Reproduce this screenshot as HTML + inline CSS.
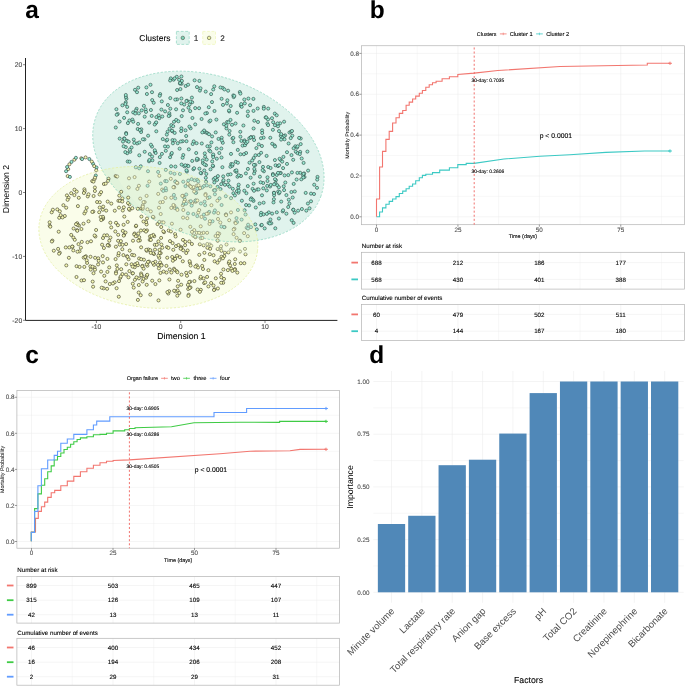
<!DOCTYPE html>
<html><head><meta charset="utf-8"><style>
html,body{margin:0;padding:0;background:#fff;}
svg{display:block;font-family:"Liberation Sans", sans-serif;will-change:transform;text-rendering:geometricPrecision;}
</style></head><body>
<svg width="685" height="686" viewBox="0 0 685 686">
<rect width="685" height="686" fill="#fff"/>
<text x="25.20" y="17.80" font-size="24.5" fill="#000" text-anchor="start" font-weight="bold" >a</text>
<text x="369.80" y="17.80" font-size="24.5" fill="#000" text-anchor="start" font-weight="bold" >b</text>
<text x="25.20" y="362.60" font-size="24.5" fill="#000" text-anchor="start" font-weight="bold" >c</text>
<text x="369.30" y="362.60" font-size="24.5" fill="#000" text-anchor="start" font-weight="bold" >d</text>
<ellipse cx="208.4" cy="156.5" rx="119.3" ry="80.2" transform="rotate(19.3 208.4 156.5)" fill="#66C2A5" fill-opacity="0.2"/>
<ellipse cx="148.35" cy="237.4" rx="110.0" ry="70.1" transform="rotate(7.25 148.35 237.4)" fill="#E6F598" fill-opacity="0.2"/>
<g stroke-width="0.6"><circle cx="246.1" cy="153.0" r="1.55" fill="#9aead3" stroke="#24423a"/><circle cx="52.4" cy="240.6" r="1.55" fill="#f7fab8" stroke="#363620"/><circle cx="188.0" cy="213.4" r="1.55" fill="#9aead3" stroke="#24423a"/><circle cx="235.8" cy="161.8" r="1.55" fill="#9aead3" stroke="#24423a"/><circle cx="211.4" cy="142.4" r="1.55" fill="#9aead3" stroke="#24423a"/><circle cx="224.3" cy="256.1" r="1.55" fill="#f7fab8" stroke="#363620"/><circle cx="228.0" cy="174.7" r="1.55" fill="#9aead3" stroke="#24423a"/><circle cx="194.6" cy="80.3" r="1.55" fill="#9aead3" stroke="#24423a"/><circle cx="122.4" cy="105.3" r="1.55" fill="#9aead3" stroke="#24423a"/><circle cx="262.1" cy="130.4" r="1.55" fill="#9aead3" stroke="#24423a"/><circle cx="242.6" cy="145.6" r="1.55" fill="#9aead3" stroke="#24423a"/><circle cx="142.5" cy="265.8" r="1.55" fill="#f7fab8" stroke="#363620"/><circle cx="236.5" cy="171.9" r="1.55" fill="#9aead3" stroke="#24423a"/><circle cx="232.8" cy="188.8" r="1.55" fill="#9aead3" stroke="#24423a"/><circle cx="116.0" cy="272.1" r="1.55" fill="#f7fab8" stroke="#363620"/><circle cx="199.8" cy="244.3" r="1.55" fill="#f7fab8" stroke="#363620"/><circle cx="122.4" cy="274.1" r="1.55" fill="#f7fab8" stroke="#363620"/><circle cx="210.1" cy="248.8" r="1.55" fill="#f7fab8" stroke="#363620"/><circle cx="174.0" cy="121.8" r="1.55" fill="#9aead3" stroke="#24423a"/><circle cx="227.1" cy="122.0" r="1.55" fill="#9aead3" stroke="#24423a"/><circle cx="196.8" cy="232.8" r="1.55" fill="#f7fab8" stroke="#363620"/><circle cx="179.9" cy="174.0" r="1.55" fill="#9aead3" stroke="#24423a"/><circle cx="152.2" cy="100.1" r="1.55" fill="#9aead3" stroke="#24423a"/><circle cx="67.7" cy="176.1" r="1.55" fill="#f7fab8" stroke="#363620"/><circle cx="210.4" cy="186.3" r="1.55" fill="#9aead3" stroke="#24423a"/><circle cx="211.1" cy="283.0" r="1.55" fill="#f7fab8" stroke="#363620"/><circle cx="147.4" cy="265.7" r="1.55" fill="#f7fab8" stroke="#363620"/><circle cx="141.4" cy="216.6" r="1.55" fill="#f7fab8" stroke="#363620"/><circle cx="186.9" cy="171.5" r="1.55" fill="#9aead3" stroke="#24423a"/><circle cx="84.4" cy="189.3" r="1.55" fill="#f7fab8" stroke="#363620"/><circle cx="213.9" cy="190.2" r="1.55" fill="#9aead3" stroke="#24423a"/><circle cx="175.5" cy="181.5" r="1.55" fill="#f7fab8" stroke="#363620"/><circle cx="102.8" cy="219.0" r="1.55" fill="#f7fab8" stroke="#363620"/><circle cx="198.1" cy="159.4" r="1.55" fill="#9aead3" stroke="#24423a"/><circle cx="238.5" cy="192.7" r="1.55" fill="#9aead3" stroke="#24423a"/><circle cx="141.1" cy="132.0" r="1.55" fill="#9aead3" stroke="#24423a"/><circle cx="214.9" cy="194.3" r="1.55" fill="#9aead3" stroke="#24423a"/><circle cx="181.2" cy="247.1" r="1.55" fill="#f7fab8" stroke="#363620"/><circle cx="177.1" cy="90.0" r="1.55" fill="#9aead3" stroke="#24423a"/><circle cx="196.7" cy="160.1" r="1.55" fill="#9aead3" stroke="#24423a"/><circle cx="107.0" cy="235.3" r="1.55" fill="#f7fab8" stroke="#363620"/><circle cx="273.2" cy="122.2" r="1.55" fill="#9aead3" stroke="#24423a"/><circle cx="216.7" cy="148.5" r="1.55" fill="#9aead3" stroke="#24423a"/><circle cx="235.0" cy="269.1" r="1.55" fill="#f7fab8" stroke="#363620"/><circle cx="228.4" cy="252.4" r="1.55" fill="#f7fab8" stroke="#363620"/><circle cx="181.6" cy="83.8" r="1.55" fill="#9aead3" stroke="#24423a"/><circle cx="172.3" cy="131.2" r="1.55" fill="#9aead3" stroke="#24423a"/><circle cx="275.3" cy="228.3" r="1.55" fill="#9aead3" stroke="#24423a"/><circle cx="118.8" cy="296.7" r="1.55" fill="#f7fab8" stroke="#363620"/><circle cx="171.9" cy="223.7" r="1.55" fill="#f7fab8" stroke="#363620"/><circle cx="183.1" cy="217.6" r="1.55" fill="#f7fab8" stroke="#363620"/><circle cx="192.2" cy="203.1" r="1.55" fill="#f7fab8" stroke="#363620"/><circle cx="81.8" cy="241.9" r="1.55" fill="#f7fab8" stroke="#363620"/><circle cx="189.6" cy="104.5" r="1.55" fill="#9aead3" stroke="#24423a"/><circle cx="188.5" cy="107.7" r="1.55" fill="#9aead3" stroke="#24423a"/><circle cx="185.7" cy="86.0" r="1.55" fill="#9aead3" stroke="#24423a"/><circle cx="255.3" cy="164.9" r="1.55" fill="#9aead3" stroke="#24423a"/><circle cx="288.3" cy="175.1" r="1.55" fill="#9aead3" stroke="#24423a"/><circle cx="185.5" cy="186.1" r="1.55" fill="#9aead3" stroke="#24423a"/><circle cx="129.4" cy="120.5" r="1.55" fill="#9aead3" stroke="#24423a"/><circle cx="145.6" cy="109.4" r="1.55" fill="#9aead3" stroke="#24423a"/><circle cx="217.7" cy="240.8" r="1.55" fill="#f7fab8" stroke="#363620"/><circle cx="170.0" cy="241.1" r="1.55" fill="#f7fab8" stroke="#363620"/><circle cx="115.8" cy="127.5" r="1.55" fill="#9aead3" stroke="#24423a"/><circle cx="171.3" cy="154.2" r="1.55" fill="#9aead3" stroke="#24423a"/><circle cx="71.5" cy="161.9" r="1.55" fill="#9aead3" stroke="#24423a"/><circle cx="294.7" cy="212.7" r="1.55" fill="#9aead3" stroke="#24423a"/><circle cx="245.5" cy="214.5" r="1.55" fill="#9aead3" stroke="#24423a"/><circle cx="253.6" cy="183.7" r="1.55" fill="#9aead3" stroke="#24423a"/><circle cx="249.3" cy="138.3" r="1.55" fill="#9aead3" stroke="#24423a"/><circle cx="183.3" cy="155.0" r="1.55" fill="#9aead3" stroke="#24423a"/><circle cx="228.8" cy="263.1" r="1.55" fill="#f7fab8" stroke="#363620"/><circle cx="87.5" cy="242.2" r="1.55" fill="#f7fab8" stroke="#363620"/><circle cx="176.0" cy="246.1" r="1.55" fill="#f7fab8" stroke="#363620"/><circle cx="200.7" cy="238.2" r="1.55" fill="#f7fab8" stroke="#363620"/><circle cx="259.6" cy="203.5" r="1.55" fill="#9aead3" stroke="#24423a"/><circle cx="291.4" cy="192.0" r="1.55" fill="#9aead3" stroke="#24423a"/><circle cx="168.7" cy="230.5" r="1.55" fill="#f7fab8" stroke="#363620"/><circle cx="81.4" cy="229.0" r="1.55" fill="#f7fab8" stroke="#363620"/><circle cx="94.9" cy="191.0" r="1.55" fill="#f7fab8" stroke="#363620"/><circle cx="254.8" cy="171.0" r="1.55" fill="#9aead3" stroke="#24423a"/><circle cx="201.5" cy="216.9" r="1.55" fill="#f7fab8" stroke="#363620"/><circle cx="109.2" cy="267.4" r="1.55" fill="#f7fab8" stroke="#363620"/><circle cx="65.8" cy="247.4" r="1.55" fill="#f7fab8" stroke="#363620"/><circle cx="153.7" cy="102.8" r="1.55" fill="#9aead3" stroke="#24423a"/><circle cx="116.8" cy="265.4" r="1.55" fill="#f7fab8" stroke="#363620"/><circle cx="131.6" cy="264.3" r="1.55" fill="#f7fab8" stroke="#363620"/><circle cx="49.7" cy="225.7" r="1.55" fill="#f7fab8" stroke="#363620"/><circle cx="126.4" cy="98.8" r="1.55" fill="#9aead3" stroke="#24423a"/><circle cx="66.3" cy="265.4" r="1.55" fill="#f7fab8" stroke="#363620"/><circle cx="295.3" cy="146.3" r="1.55" fill="#9aead3" stroke="#24423a"/><circle cx="79.5" cy="251.3" r="1.55" fill="#f7fab8" stroke="#363620"/><circle cx="268.2" cy="167.0" r="1.55" fill="#9aead3" stroke="#24423a"/><circle cx="259.4" cy="162.1" r="1.55" fill="#9aead3" stroke="#24423a"/><circle cx="223.4" cy="269.5" r="1.55" fill="#f7fab8" stroke="#363620"/><circle cx="261.9" cy="146.0" r="1.55" fill="#9aead3" stroke="#24423a"/><circle cx="154.0" cy="254.0" r="1.55" fill="#f7fab8" stroke="#363620"/><circle cx="229.2" cy="111.4" r="1.55" fill="#9aead3" stroke="#24423a"/><circle cx="195.2" cy="108.1" r="1.55" fill="#9aead3" stroke="#24423a"/><circle cx="317.5" cy="176.9" r="1.55" fill="#9aead3" stroke="#24423a"/><circle cx="136.6" cy="108.8" r="1.55" fill="#9aead3" stroke="#24423a"/><circle cx="244.8" cy="103.4" r="1.55" fill="#9aead3" stroke="#24423a"/><circle cx="130.3" cy="151.8" r="1.55" fill="#9aead3" stroke="#24423a"/><circle cx="262.0" cy="195.3" r="1.55" fill="#9aead3" stroke="#24423a"/><circle cx="68.2" cy="169.1" r="1.55" fill="#f7fab8" stroke="#363620"/><circle cx="141.2" cy="208.5" r="1.55" fill="#f7fab8" stroke="#363620"/><circle cx="291.9" cy="172.4" r="1.55" fill="#9aead3" stroke="#24423a"/><circle cx="165.1" cy="111.4" r="1.55" fill="#9aead3" stroke="#24423a"/><circle cx="162.3" cy="247.7" r="1.55" fill="#f7fab8" stroke="#363620"/><circle cx="221.2" cy="184.1" r="1.55" fill="#9aead3" stroke="#24423a"/><circle cx="258.7" cy="144.4" r="1.55" fill="#9aead3" stroke="#24423a"/><circle cx="176.8" cy="76.8" r="1.55" fill="#9aead3" stroke="#24423a"/><circle cx="103.0" cy="238.0" r="1.55" fill="#f7fab8" stroke="#363620"/><circle cx="237.9" cy="210.0" r="1.55" fill="#9aead3" stroke="#24423a"/><circle cx="116.0" cy="273.5" r="1.55" fill="#f7fab8" stroke="#363620"/><circle cx="217.1" cy="179.9" r="1.55" fill="#9aead3" stroke="#24423a"/><circle cx="159.3" cy="280.4" r="1.55" fill="#f7fab8" stroke="#363620"/><circle cx="142.3" cy="266.4" r="1.55" fill="#f7fab8" stroke="#363620"/><circle cx="171.3" cy="197.7" r="1.55" fill="#f7fab8" stroke="#363620"/><circle cx="81.3" cy="158.3" r="1.55" fill="#f7fab8" stroke="#363620"/><circle cx="246.4" cy="193.2" r="1.55" fill="#9aead3" stroke="#24423a"/><circle cx="152.2" cy="280.7" r="1.55" fill="#f7fab8" stroke="#363620"/><circle cx="264.7" cy="228.4" r="1.55" fill="#9aead3" stroke="#24423a"/><circle cx="309.5" cy="208.3" r="1.55" fill="#9aead3" stroke="#24423a"/><circle cx="119.0" cy="281.1" r="1.55" fill="#f7fab8" stroke="#363620"/><circle cx="178.5" cy="245.0" r="1.55" fill="#f7fab8" stroke="#363620"/><circle cx="134.9" cy="279.8" r="1.55" fill="#f7fab8" stroke="#363620"/><circle cx="83.7" cy="257.6" r="1.55" fill="#f7fab8" stroke="#363620"/><circle cx="206.3" cy="173.9" r="1.55" fill="#9aead3" stroke="#24423a"/><circle cx="169.8" cy="269.5" r="1.55" fill="#f7fab8" stroke="#363620"/><circle cx="213.1" cy="166.2" r="1.55" fill="#9aead3" stroke="#24423a"/><circle cx="236.9" cy="191.1" r="1.55" fill="#9aead3" stroke="#24423a"/><circle cx="215.8" cy="278.3" r="1.55" fill="#f7fab8" stroke="#363620"/><circle cx="129.6" cy="209.9" r="1.55" fill="#f7fab8" stroke="#363620"/><circle cx="184.3" cy="166.3" r="1.55" fill="#9aead3" stroke="#24423a"/><circle cx="119.7" cy="244.6" r="1.55" fill="#f7fab8" stroke="#363620"/><circle cx="140.2" cy="198.6" r="1.55" fill="#f7fab8" stroke="#363620"/><circle cx="187.0" cy="100.7" r="1.55" fill="#9aead3" stroke="#24423a"/><circle cx="189.8" cy="185.7" r="1.55" fill="#f7fab8" stroke="#363620"/><circle cx="272.1" cy="213.6" r="1.55" fill="#9aead3" stroke="#24423a"/><circle cx="148.3" cy="249.5" r="1.55" fill="#f7fab8" stroke="#363620"/><circle cx="199.4" cy="168.7" r="1.55" fill="#9aead3" stroke="#24423a"/><circle cx="255.3" cy="224.4" r="1.55" fill="#9aead3" stroke="#24423a"/><circle cx="209.2" cy="150.4" r="1.55" fill="#9aead3" stroke="#24423a"/><circle cx="187.6" cy="250.5" r="1.55" fill="#f7fab8" stroke="#363620"/><circle cx="188.1" cy="84.7" r="1.55" fill="#9aead3" stroke="#24423a"/><circle cx="293.7" cy="183.9" r="1.55" fill="#9aead3" stroke="#24423a"/><circle cx="295.8" cy="151.7" r="1.55" fill="#9aead3" stroke="#24423a"/><circle cx="93.6" cy="196.0" r="1.55" fill="#f7fab8" stroke="#363620"/><circle cx="142.8" cy="208.6" r="1.55" fill="#f7fab8" stroke="#363620"/><circle cx="200.9" cy="203.5" r="1.55" fill="#9aead3" stroke="#24423a"/><circle cx="220.5" cy="247.9" r="1.55" fill="#f7fab8" stroke="#363620"/><circle cx="214.3" cy="182.4" r="1.55" fill="#9aead3" stroke="#24423a"/><circle cx="201.6" cy="119.0" r="1.55" fill="#9aead3" stroke="#24423a"/><circle cx="284.5" cy="139.3" r="1.55" fill="#9aead3" stroke="#24423a"/><circle cx="161.1" cy="237.9" r="1.55" fill="#f7fab8" stroke="#363620"/><circle cx="222.4" cy="167.2" r="1.55" fill="#9aead3" stroke="#24423a"/><circle cx="296.6" cy="179.5" r="1.55" fill="#9aead3" stroke="#24423a"/><circle cx="92.2" cy="181.1" r="1.55" fill="#f7fab8" stroke="#363620"/><circle cx="220.5" cy="189.1" r="1.55" fill="#9aead3" stroke="#24423a"/><circle cx="154.2" cy="236.2" r="1.55" fill="#f7fab8" stroke="#363620"/><circle cx="180.6" cy="229.7" r="1.55" fill="#f7fab8" stroke="#363620"/><circle cx="149.7" cy="239.9" r="1.55" fill="#f7fab8" stroke="#363620"/><circle cx="170.8" cy="178.8" r="1.55" fill="#f7fab8" stroke="#363620"/><circle cx="124.3" cy="216.6" r="1.55" fill="#f7fab8" stroke="#363620"/><circle cx="216.4" cy="119.6" r="1.55" fill="#9aead3" stroke="#24423a"/><circle cx="244.3" cy="190.7" r="1.55" fill="#9aead3" stroke="#24423a"/><circle cx="197.0" cy="87.1" r="1.55" fill="#9aead3" stroke="#24423a"/><circle cx="272.9" cy="129.8" r="1.55" fill="#9aead3" stroke="#24423a"/><circle cx="177.6" cy="290.5" r="1.55" fill="#f7fab8" stroke="#363620"/><circle cx="160.7" cy="253.1" r="1.55" fill="#f7fab8" stroke="#363620"/><circle cx="152.0" cy="92.2" r="1.55" fill="#9aead3" stroke="#24423a"/><circle cx="209.8" cy="254.2" r="1.55" fill="#f7fab8" stroke="#363620"/><circle cx="103.9" cy="248.0" r="1.55" fill="#f7fab8" stroke="#363620"/><circle cx="172.5" cy="140.1" r="1.55" fill="#9aead3" stroke="#24423a"/><circle cx="189.3" cy="241.4" r="1.55" fill="#f7fab8" stroke="#363620"/><circle cx="84.4" cy="213.4" r="1.55" fill="#f7fab8" stroke="#363620"/><circle cx="252.6" cy="188.9" r="1.55" fill="#9aead3" stroke="#24423a"/><circle cx="193.2" cy="235.6" r="1.55" fill="#f7fab8" stroke="#363620"/><circle cx="225.8" cy="196.2" r="1.55" fill="#9aead3" stroke="#24423a"/><circle cx="53.8" cy="250.7" r="1.55" fill="#f7fab8" stroke="#363620"/><circle cx="203.5" cy="232.8" r="1.55" fill="#f7fab8" stroke="#363620"/><circle cx="293.6" cy="222.9" r="1.55" fill="#9aead3" stroke="#24423a"/><circle cx="165.8" cy="150.8" r="1.55" fill="#9aead3" stroke="#24423a"/><circle cx="188.2" cy="180.6" r="1.55" fill="#9aead3" stroke="#24423a"/><circle cx="150.3" cy="294.6" r="1.55" fill="#f7fab8" stroke="#363620"/><circle cx="132.5" cy="273.3" r="1.55" fill="#f7fab8" stroke="#363620"/><circle cx="276.8" cy="174.9" r="1.55" fill="#9aead3" stroke="#24423a"/><circle cx="276.8" cy="212.3" r="1.55" fill="#9aead3" stroke="#24423a"/><circle cx="118.1" cy="240.8" r="1.55" fill="#f7fab8" stroke="#363620"/><circle cx="146.1" cy="277.7" r="1.55" fill="#f7fab8" stroke="#363620"/><circle cx="224.5" cy="227.1" r="1.55" fill="#f7fab8" stroke="#363620"/><circle cx="174.7" cy="140.3" r="1.55" fill="#9aead3" stroke="#24423a"/><circle cx="126.1" cy="244.1" r="1.55" fill="#f7fab8" stroke="#363620"/><circle cx="115.7" cy="176.0" r="1.55" fill="#f7fab8" stroke="#363620"/><circle cx="217.6" cy="186.9" r="1.55" fill="#9aead3" stroke="#24423a"/><circle cx="253.4" cy="137.0" r="1.55" fill="#9aead3" stroke="#24423a"/><circle cx="79.0" cy="225.6" r="1.55" fill="#f7fab8" stroke="#363620"/><circle cx="103.6" cy="288.3" r="1.55" fill="#f7fab8" stroke="#363620"/><circle cx="120.9" cy="241.1" r="1.55" fill="#f7fab8" stroke="#363620"/><circle cx="280.7" cy="160.0" r="1.55" fill="#9aead3" stroke="#24423a"/><circle cx="160.2" cy="94.1" r="1.55" fill="#9aead3" stroke="#24423a"/><circle cx="259.9" cy="176.7" r="1.55" fill="#9aead3" stroke="#24423a"/><circle cx="172.9" cy="260.7" r="1.55" fill="#f7fab8" stroke="#363620"/><circle cx="101.7" cy="287.7" r="1.55" fill="#f7fab8" stroke="#363620"/><circle cx="160.1" cy="262.4" r="1.55" fill="#f7fab8" stroke="#363620"/><circle cx="142.8" cy="205.3" r="1.55" fill="#f7fab8" stroke="#363620"/><circle cx="87.1" cy="262.9" r="1.55" fill="#f7fab8" stroke="#363620"/><circle cx="150.3" cy="250.2" r="1.55" fill="#f7fab8" stroke="#363620"/><circle cx="117.7" cy="114.0" r="1.55" fill="#9aead3" stroke="#24423a"/><circle cx="146.7" cy="275.7" r="1.55" fill="#f7fab8" stroke="#363620"/><circle cx="207.3" cy="133.1" r="1.55" fill="#9aead3" stroke="#24423a"/><circle cx="268.0" cy="119.4" r="1.55" fill="#9aead3" stroke="#24423a"/><circle cx="109.1" cy="245.7" r="1.55" fill="#f7fab8" stroke="#363620"/><circle cx="239.8" cy="92.0" r="1.55" fill="#9aead3" stroke="#24423a"/><circle cx="207.1" cy="232.8" r="1.55" fill="#f7fab8" stroke="#363620"/><circle cx="66.9" cy="195.4" r="1.55" fill="#f7fab8" stroke="#363620"/><circle cx="167.6" cy="131.7" r="1.55" fill="#9aead3" stroke="#24423a"/><circle cx="236.5" cy="218.1" r="1.55" fill="#9aead3" stroke="#24423a"/><circle cx="205.1" cy="205.2" r="1.55" fill="#9aead3" stroke="#24423a"/><circle cx="127.7" cy="161.5" r="1.55" fill="#9aead3" stroke="#24423a"/><circle cx="167.9" cy="146.6" r="1.55" fill="#9aead3" stroke="#24423a"/><circle cx="197.3" cy="216.1" r="1.55" fill="#9aead3" stroke="#24423a"/><circle cx="184.2" cy="197.8" r="1.55" fill="#9aead3" stroke="#24423a"/><circle cx="187.8" cy="183.9" r="1.55" fill="#f7fab8" stroke="#363620"/><circle cx="150.0" cy="236.4" r="1.55" fill="#f7fab8" stroke="#363620"/><circle cx="184.9" cy="199.9" r="1.55" fill="#f7fab8" stroke="#363620"/><circle cx="158.2" cy="193.9" r="1.55" fill="#f7fab8" stroke="#363620"/><circle cx="171.8" cy="153.0" r="1.55" fill="#9aead3" stroke="#24423a"/><circle cx="249.5" cy="162.7" r="1.55" fill="#9aead3" stroke="#24423a"/><circle cx="116.7" cy="114.8" r="1.55" fill="#9aead3" stroke="#24423a"/><circle cx="193.4" cy="169.2" r="1.55" fill="#9aead3" stroke="#24423a"/><circle cx="128.6" cy="259.2" r="1.55" fill="#f7fab8" stroke="#363620"/><circle cx="139.2" cy="168.3" r="1.55" fill="#9aead3" stroke="#24423a"/><circle cx="219.2" cy="233.7" r="1.55" fill="#f7fab8" stroke="#363620"/><circle cx="170.8" cy="78.4" r="1.55" fill="#9aead3" stroke="#24423a"/><circle cx="138.1" cy="123.9" r="1.55" fill="#9aead3" stroke="#24423a"/><circle cx="265.6" cy="117.4" r="1.55" fill="#9aead3" stroke="#24423a"/><circle cx="283.1" cy="168.1" r="1.55" fill="#9aead3" stroke="#24423a"/><circle cx="281.2" cy="201.6" r="1.55" fill="#9aead3" stroke="#24423a"/><circle cx="160.3" cy="202.3" r="1.55" fill="#f7fab8" stroke="#363620"/><circle cx="159.6" cy="163.0" r="1.55" fill="#9aead3" stroke="#24423a"/><circle cx="217.9" cy="288.5" r="1.55" fill="#f7fab8" stroke="#363620"/><circle cx="181.4" cy="98.5" r="1.55" fill="#9aead3" stroke="#24423a"/><circle cx="174.0" cy="268.7" r="1.55" fill="#f7fab8" stroke="#363620"/><circle cx="160.8" cy="183.6" r="1.55" fill="#9aead3" stroke="#24423a"/><circle cx="125.8" cy="147.1" r="1.55" fill="#9aead3" stroke="#24423a"/><circle cx="183.0" cy="239.9" r="1.55" fill="#f7fab8" stroke="#363620"/><circle cx="272.9" cy="174.0" r="1.55" fill="#9aead3" stroke="#24423a"/><circle cx="165.2" cy="181.0" r="1.55" fill="#9aead3" stroke="#24423a"/><circle cx="186.2" cy="136.0" r="1.55" fill="#9aead3" stroke="#24423a"/><circle cx="149.2" cy="181.6" r="1.55" fill="#f7fab8" stroke="#363620"/><circle cx="272.2" cy="143.8" r="1.55" fill="#9aead3" stroke="#24423a"/><circle cx="118.3" cy="255.4" r="1.55" fill="#f7fab8" stroke="#363620"/><circle cx="241.4" cy="140.9" r="1.55" fill="#9aead3" stroke="#24423a"/><circle cx="155.0" cy="151.9" r="1.55" fill="#9aead3" stroke="#24423a"/><circle cx="221.3" cy="277.3" r="1.55" fill="#f7fab8" stroke="#363620"/><circle cx="221.6" cy="205.0" r="1.55" fill="#9aead3" stroke="#24423a"/><circle cx="245.0" cy="145.2" r="1.55" fill="#9aead3" stroke="#24423a"/><circle cx="218.2" cy="213.1" r="1.55" fill="#f7fab8" stroke="#363620"/><circle cx="151.7" cy="115.9" r="1.55" fill="#9aead3" stroke="#24423a"/><circle cx="235.2" cy="259.3" r="1.55" fill="#f7fab8" stroke="#363620"/><circle cx="230.6" cy="174.3" r="1.55" fill="#9aead3" stroke="#24423a"/><circle cx="159.6" cy="253.0" r="1.55" fill="#f7fab8" stroke="#363620"/><circle cx="92.7" cy="281.6" r="1.55" fill="#f7fab8" stroke="#363620"/><circle cx="114.8" cy="210.7" r="1.55" fill="#f7fab8" stroke="#363620"/><circle cx="172.0" cy="130.6" r="1.55" fill="#9aead3" stroke="#24423a"/><circle cx="77.5" cy="251.7" r="1.55" fill="#f7fab8" stroke="#363620"/><circle cx="108.1" cy="244.8" r="1.55" fill="#f7fab8" stroke="#363620"/><circle cx="155.3" cy="261.7" r="1.55" fill="#f7fab8" stroke="#363620"/><circle cx="134.6" cy="233.5" r="1.55" fill="#f7fab8" stroke="#363620"/><circle cx="225.9" cy="214.6" r="1.55" fill="#9aead3" stroke="#24423a"/><circle cx="187.5" cy="165.7" r="1.55" fill="#9aead3" stroke="#24423a"/><circle cx="175.2" cy="198.3" r="1.55" fill="#9aead3" stroke="#24423a"/><circle cx="109.8" cy="284.0" r="1.55" fill="#f7fab8" stroke="#363620"/><circle cx="186.2" cy="253.0" r="1.55" fill="#f7fab8" stroke="#363620"/><circle cx="233.3" cy="95.4" r="1.55" fill="#9aead3" stroke="#24423a"/><circle cx="274.0" cy="192.7" r="1.55" fill="#9aead3" stroke="#24423a"/><circle cx="221.6" cy="98.8" r="1.55" fill="#9aead3" stroke="#24423a"/><circle cx="72.5" cy="246.7" r="1.55" fill="#f7fab8" stroke="#363620"/><circle cx="132.1" cy="254.9" r="1.55" fill="#f7fab8" stroke="#363620"/><circle cx="193.2" cy="187.8" r="1.55" fill="#f7fab8" stroke="#363620"/><circle cx="77.2" cy="223.2" r="1.55" fill="#f7fab8" stroke="#363620"/><circle cx="247.9" cy="168.9" r="1.55" fill="#9aead3" stroke="#24423a"/><circle cx="288.2" cy="207.0" r="1.55" fill="#9aead3" stroke="#24423a"/><circle cx="174.8" cy="258.6" r="1.55" fill="#f7fab8" stroke="#363620"/><circle cx="129.7" cy="250.6" r="1.55" fill="#f7fab8" stroke="#363620"/><circle cx="203.0" cy="269.0" r="1.55" fill="#f7fab8" stroke="#363620"/><circle cx="275.5" cy="183.3" r="1.55" fill="#9aead3" stroke="#24423a"/><circle cx="251.0" cy="137.1" r="1.55" fill="#9aead3" stroke="#24423a"/><circle cx="263.6" cy="202.7" r="1.55" fill="#9aead3" stroke="#24423a"/><circle cx="212.5" cy="221.3" r="1.55" fill="#9aead3" stroke="#24423a"/><circle cx="51.9" cy="241.5" r="1.55" fill="#f7fab8" stroke="#363620"/><circle cx="169.6" cy="128.7" r="1.55" fill="#9aead3" stroke="#24423a"/><circle cx="261.2" cy="225.3" r="1.55" fill="#9aead3" stroke="#24423a"/><circle cx="289.5" cy="132.5" r="1.55" fill="#9aead3" stroke="#24423a"/><circle cx="138.9" cy="278.3" r="1.55" fill="#f7fab8" stroke="#363620"/><circle cx="82.1" cy="159.1" r="1.55" fill="#9aead3" stroke="#24423a"/><circle cx="292.7" cy="197.5" r="1.55" fill="#9aead3" stroke="#24423a"/><circle cx="144.4" cy="139.4" r="1.55" fill="#9aead3" stroke="#24423a"/><circle cx="155.0" cy="249.6" r="1.55" fill="#f7fab8" stroke="#363620"/><circle cx="246.7" cy="227.8" r="1.55" fill="#9aead3" stroke="#24423a"/><circle cx="204.6" cy="201.7" r="1.55" fill="#9aead3" stroke="#24423a"/><circle cx="214.6" cy="289.4" r="1.55" fill="#f7fab8" stroke="#363620"/><circle cx="195.6" cy="201.8" r="1.55" fill="#f7fab8" stroke="#363620"/><circle cx="68.6" cy="197.7" r="1.55" fill="#f7fab8" stroke="#363620"/><circle cx="132.3" cy="208.2" r="1.55" fill="#f7fab8" stroke="#363620"/><circle cx="307.9" cy="203.5" r="1.55" fill="#9aead3" stroke="#24423a"/><circle cx="192.2" cy="102.2" r="1.55" fill="#9aead3" stroke="#24423a"/><circle cx="190.0" cy="262.8" r="1.55" fill="#f7fab8" stroke="#363620"/><circle cx="189.6" cy="261.2" r="1.55" fill="#f7fab8" stroke="#363620"/><circle cx="230.7" cy="106.0" r="1.55" fill="#9aead3" stroke="#24423a"/><circle cx="214.0" cy="212.6" r="1.55" fill="#9aead3" stroke="#24423a"/><circle cx="291.5" cy="155.1" r="1.55" fill="#9aead3" stroke="#24423a"/><circle cx="117.4" cy="268.9" r="1.55" fill="#f7fab8" stroke="#363620"/><circle cx="231.2" cy="164.0" r="1.55" fill="#9aead3" stroke="#24423a"/><circle cx="216.8" cy="158.7" r="1.55" fill="#9aead3" stroke="#24423a"/><circle cx="121.2" cy="191.8" r="1.55" fill="#f7fab8" stroke="#363620"/><circle cx="212.2" cy="161.4" r="1.55" fill="#9aead3" stroke="#24423a"/><circle cx="204.1" cy="283.1" r="1.55" fill="#f7fab8" stroke="#363620"/><circle cx="201.2" cy="173.3" r="1.55" fill="#9aead3" stroke="#24423a"/><circle cx="191.6" cy="179.2" r="1.55" fill="#9aead3" stroke="#24423a"/><circle cx="149.0" cy="261.6" r="1.55" fill="#f7fab8" stroke="#363620"/><circle cx="107.1" cy="288.8" r="1.55" fill="#f7fab8" stroke="#363620"/><circle cx="166.7" cy="181.2" r="1.55" fill="#9aead3" stroke="#24423a"/><circle cx="177.1" cy="99.4" r="1.55" fill="#9aead3" stroke="#24423a"/><circle cx="162.1" cy="189.6" r="1.55" fill="#f7fab8" stroke="#363620"/><circle cx="197.2" cy="179.9" r="1.55" fill="#9aead3" stroke="#24423a"/><circle cx="240.0" cy="240.7" r="1.55" fill="#f7fab8" stroke="#363620"/><circle cx="190.6" cy="265.5" r="1.55" fill="#f7fab8" stroke="#363620"/><circle cx="201.8" cy="143.5" r="1.55" fill="#9aead3" stroke="#24423a"/><circle cx="137.2" cy="143.4" r="1.55" fill="#9aead3" stroke="#24423a"/><circle cx="118.4" cy="200.8" r="1.55" fill="#f7fab8" stroke="#363620"/><circle cx="85.9" cy="256.3" r="1.55" fill="#f7fab8" stroke="#363620"/><circle cx="93.3" cy="211.6" r="1.55" fill="#f7fab8" stroke="#363620"/><circle cx="255.8" cy="207.5" r="1.55" fill="#9aead3" stroke="#24423a"/><circle cx="119.6" cy="121.6" r="1.55" fill="#9aead3" stroke="#24423a"/><circle cx="210.3" cy="151.4" r="1.55" fill="#9aead3" stroke="#24423a"/><circle cx="267.4" cy="123.5" r="1.55" fill="#9aead3" stroke="#24423a"/><circle cx="175.4" cy="291.4" r="1.55" fill="#f7fab8" stroke="#363620"/><circle cx="132.9" cy="273.3" r="1.55" fill="#f7fab8" stroke="#363620"/><circle cx="141.7" cy="110.4" r="1.55" fill="#9aead3" stroke="#24423a"/><circle cx="125.9" cy="97.0" r="1.55" fill="#9aead3" stroke="#24423a"/><circle cx="297.0" cy="147.6" r="1.55" fill="#9aead3" stroke="#24423a"/><circle cx="143.4" cy="279.0" r="1.55" fill="#f7fab8" stroke="#363620"/><circle cx="212.0" cy="102.1" r="1.55" fill="#9aead3" stroke="#24423a"/><circle cx="159.3" cy="175.8" r="1.55" fill="#f7fab8" stroke="#363620"/><circle cx="69.3" cy="247.4" r="1.55" fill="#f7fab8" stroke="#363620"/><circle cx="103.9" cy="184.0" r="1.55" fill="#f7fab8" stroke="#363620"/><circle cx="278.2" cy="191.5" r="1.55" fill="#9aead3" stroke="#24423a"/><circle cx="95.8" cy="175.5" r="1.55" fill="#9aead3" stroke="#24423a"/><circle cx="245.0" cy="248.9" r="1.55" fill="#f7fab8" stroke="#363620"/><circle cx="102.7" cy="256.1" r="1.55" fill="#f7fab8" stroke="#363620"/><circle cx="250.6" cy="177.7" r="1.55" fill="#9aead3" stroke="#24423a"/><circle cx="95.1" cy="257.8" r="1.55" fill="#f7fab8" stroke="#363620"/><circle cx="170.1" cy="80.5" r="1.55" fill="#9aead3" stroke="#24423a"/><circle cx="277.3" cy="185.3" r="1.55" fill="#9aead3" stroke="#24423a"/><circle cx="93.1" cy="163.8" r="1.55" fill="#9aead3" stroke="#24423a"/><circle cx="166.4" cy="140.6" r="1.55" fill="#9aead3" stroke="#24423a"/><circle cx="140.8" cy="166.3" r="1.55" fill="#9aead3" stroke="#24423a"/><circle cx="122.4" cy="198.4" r="1.55" fill="#f7fab8" stroke="#363620"/><circle cx="127.2" cy="153.2" r="1.55" fill="#9aead3" stroke="#24423a"/><circle cx="213.5" cy="285.5" r="1.55" fill="#f7fab8" stroke="#363620"/><circle cx="118.2" cy="234.8" r="1.55" fill="#f7fab8" stroke="#363620"/><circle cx="283.7" cy="186.3" r="1.55" fill="#9aead3" stroke="#24423a"/><circle cx="102.8" cy="209.7" r="1.55" fill="#f7fab8" stroke="#363620"/><circle cx="247.9" cy="111.5" r="1.55" fill="#9aead3" stroke="#24423a"/><circle cx="59.8" cy="252.7" r="1.55" fill="#f7fab8" stroke="#363620"/><circle cx="190.3" cy="226.8" r="1.55" fill="#f7fab8" stroke="#363620"/><circle cx="107.7" cy="201.6" r="1.55" fill="#f7fab8" stroke="#363620"/><circle cx="137.7" cy="129.0" r="1.55" fill="#9aead3" stroke="#24423a"/><circle cx="257.3" cy="189.5" r="1.55" fill="#9aead3" stroke="#24423a"/><circle cx="212.8" cy="165.6" r="1.55" fill="#9aead3" stroke="#24423a"/><circle cx="231.3" cy="268.7" r="1.55" fill="#f7fab8" stroke="#363620"/><circle cx="165.8" cy="169.9" r="1.55" fill="#9aead3" stroke="#24423a"/><circle cx="175.3" cy="181.6" r="1.55" fill="#9aead3" stroke="#24423a"/><circle cx="68.9" cy="257.8" r="1.55" fill="#f7fab8" stroke="#363620"/><circle cx="304.5" cy="177.0" r="1.55" fill="#9aead3" stroke="#24423a"/><circle cx="144.7" cy="151.8" r="1.55" fill="#9aead3" stroke="#24423a"/><circle cx="248.0" cy="228.5" r="1.55" fill="#9aead3" stroke="#24423a"/><circle cx="233.4" cy="193.2" r="1.55" fill="#9aead3" stroke="#24423a"/><circle cx="214.6" cy="261.3" r="1.55" fill="#f7fab8" stroke="#363620"/><circle cx="213.5" cy="255.2" r="1.55" fill="#f7fab8" stroke="#363620"/><circle cx="278.9" cy="218.5" r="1.55" fill="#9aead3" stroke="#24423a"/><circle cx="134.2" cy="234.5" r="1.55" fill="#f7fab8" stroke="#363620"/><circle cx="189.5" cy="201.6" r="1.55" fill="#f7fab8" stroke="#363620"/><circle cx="209.8" cy="244.5" r="1.55" fill="#f7fab8" stroke="#363620"/><circle cx="187.9" cy="284.9" r="1.55" fill="#f7fab8" stroke="#363620"/><circle cx="127.1" cy="256.3" r="1.55" fill="#f7fab8" stroke="#363620"/><circle cx="122.3" cy="249.2" r="1.55" fill="#f7fab8" stroke="#363620"/><circle cx="153.9" cy="264.8" r="1.55" fill="#f7fab8" stroke="#363620"/><circle cx="235.3" cy="222.4" r="1.55" fill="#f7fab8" stroke="#363620"/><circle cx="243.9" cy="154.2" r="1.55" fill="#9aead3" stroke="#24423a"/><circle cx="183.3" cy="210.0" r="1.55" fill="#f7fab8" stroke="#363620"/><circle cx="191.6" cy="205.6" r="1.55" fill="#9aead3" stroke="#24423a"/><circle cx="230.4" cy="166.8" r="1.55" fill="#9aead3" stroke="#24423a"/><circle cx="223.2" cy="282.8" r="1.55" fill="#f7fab8" stroke="#363620"/><circle cx="300.2" cy="172.8" r="1.55" fill="#9aead3" stroke="#24423a"/><circle cx="279.0" cy="131.1" r="1.55" fill="#9aead3" stroke="#24423a"/><circle cx="152.1" cy="156.5" r="1.55" fill="#9aead3" stroke="#24423a"/><circle cx="142.6" cy="281.5" r="1.55" fill="#f7fab8" stroke="#363620"/><circle cx="221.4" cy="226.6" r="1.55" fill="#9aead3" stroke="#24423a"/><circle cx="226.0" cy="214.5" r="1.55" fill="#f7fab8" stroke="#363620"/><circle cx="222.7" cy="87.9" r="1.55" fill="#9aead3" stroke="#24423a"/><circle cx="262.2" cy="133.0" r="1.55" fill="#9aead3" stroke="#24423a"/><circle cx="147.0" cy="230.4" r="1.55" fill="#f7fab8" stroke="#363620"/><circle cx="196.2" cy="153.0" r="1.55" fill="#9aead3" stroke="#24423a"/><circle cx="96.1" cy="230.0" r="1.55" fill="#f7fab8" stroke="#363620"/><circle cx="204.0" cy="186.0" r="1.55" fill="#9aead3" stroke="#24423a"/><circle cx="287.0" cy="163.9" r="1.55" fill="#9aead3" stroke="#24423a"/><circle cx="59.2" cy="217.8" r="1.55" fill="#f7fab8" stroke="#363620"/><circle cx="161.4" cy="264.8" r="1.55" fill="#f7fab8" stroke="#363620"/><circle cx="274.9" cy="160.1" r="1.55" fill="#9aead3" stroke="#24423a"/><circle cx="196.2" cy="192.8" r="1.55" fill="#9aead3" stroke="#24423a"/><circle cx="270.4" cy="219.5" r="1.55" fill="#9aead3" stroke="#24423a"/><circle cx="152.0" cy="146.6" r="1.55" fill="#9aead3" stroke="#24423a"/><circle cx="205.6" cy="132.3" r="1.55" fill="#9aead3" stroke="#24423a"/><circle cx="105.6" cy="281.4" r="1.55" fill="#f7fab8" stroke="#363620"/><circle cx="240.9" cy="105.7" r="1.55" fill="#9aead3" stroke="#24423a"/><circle cx="249.1" cy="205.4" r="1.55" fill="#9aead3" stroke="#24423a"/><circle cx="167.0" cy="247.1" r="1.55" fill="#f7fab8" stroke="#363620"/><circle cx="131.6" cy="147.5" r="1.55" fill="#9aead3" stroke="#24423a"/><circle cx="221.4" cy="250.8" r="1.55" fill="#f7fab8" stroke="#363620"/><circle cx="224.2" cy="227.1" r="1.55" fill="#9aead3" stroke="#24423a"/><circle cx="195.6" cy="200.5" r="1.55" fill="#f7fab8" stroke="#363620"/><circle cx="244.5" cy="140.4" r="1.55" fill="#9aead3" stroke="#24423a"/><circle cx="221.0" cy="246.2" r="1.55" fill="#f7fab8" stroke="#363620"/><circle cx="181.2" cy="284.7" r="1.55" fill="#f7fab8" stroke="#363620"/><circle cx="137.9" cy="265.2" r="1.55" fill="#f7fab8" stroke="#363620"/><circle cx="134.2" cy="255.3" r="1.55" fill="#f7fab8" stroke="#363620"/><circle cx="157.5" cy="224.1" r="1.55" fill="#f7fab8" stroke="#363620"/><circle cx="253.7" cy="158.0" r="1.55" fill="#9aead3" stroke="#24423a"/><circle cx="204.4" cy="252.8" r="1.55" fill="#f7fab8" stroke="#363620"/><circle cx="135.9" cy="226.2" r="1.55" fill="#f7fab8" stroke="#363620"/><circle cx="280.8" cy="173.0" r="1.55" fill="#9aead3" stroke="#24423a"/><circle cx="166.1" cy="190.3" r="1.55" fill="#9aead3" stroke="#24423a"/><circle cx="270.1" cy="186.5" r="1.55" fill="#9aead3" stroke="#24423a"/><circle cx="164.0" cy="232.2" r="1.55" fill="#f7fab8" stroke="#363620"/><circle cx="96.5" cy="167.5" r="1.55" fill="#9aead3" stroke="#24423a"/><circle cx="273.5" cy="202.4" r="1.55" fill="#9aead3" stroke="#24423a"/><circle cx="270.6" cy="168.0" r="1.55" fill="#9aead3" stroke="#24423a"/><circle cx="84.7" cy="191.2" r="1.55" fill="#f7fab8" stroke="#363620"/><circle cx="190.6" cy="128.3" r="1.55" fill="#9aead3" stroke="#24423a"/><circle cx="174.7" cy="132.9" r="1.55" fill="#9aead3" stroke="#24423a"/><circle cx="119.3" cy="195.6" r="1.55" fill="#f7fab8" stroke="#363620"/><circle cx="116.6" cy="288.2" r="1.55" fill="#f7fab8" stroke="#363620"/><circle cx="93.5" cy="181.6" r="1.55" fill="#f7fab8" stroke="#363620"/><circle cx="194.2" cy="230.1" r="1.55" fill="#f7fab8" stroke="#363620"/><circle cx="171.3" cy="207.9" r="1.55" fill="#f7fab8" stroke="#363620"/><circle cx="226.9" cy="103.5" r="1.55" fill="#9aead3" stroke="#24423a"/><circle cx="247.8" cy="115.9" r="1.55" fill="#9aead3" stroke="#24423a"/><circle cx="139.9" cy="240.4" r="1.55" fill="#f7fab8" stroke="#363620"/><circle cx="170.3" cy="98.1" r="1.55" fill="#9aead3" stroke="#24423a"/><circle cx="266.2" cy="117.4" r="1.55" fill="#9aead3" stroke="#24423a"/><circle cx="238.2" cy="187.6" r="1.55" fill="#9aead3" stroke="#24423a"/><circle cx="195.6" cy="192.9" r="1.55" fill="#9aead3" stroke="#24423a"/><circle cx="213.7" cy="179.1" r="1.55" fill="#9aead3" stroke="#24423a"/><circle cx="143.9" cy="105.8" r="1.55" fill="#9aead3" stroke="#24423a"/><circle cx="275.9" cy="180.2" r="1.55" fill="#9aead3" stroke="#24423a"/><circle cx="209.5" cy="223.9" r="1.55" fill="#f7fab8" stroke="#363620"/><circle cx="263.6" cy="137.6" r="1.55" fill="#9aead3" stroke="#24423a"/><circle cx="267.5" cy="177.3" r="1.55" fill="#9aead3" stroke="#24423a"/><circle cx="169.3" cy="113.2" r="1.55" fill="#9aead3" stroke="#24423a"/><circle cx="126.1" cy="133.0" r="1.55" fill="#9aead3" stroke="#24423a"/><circle cx="244.6" cy="141.7" r="1.55" fill="#9aead3" stroke="#24423a"/><circle cx="78.5" cy="244.1" r="1.55" fill="#f7fab8" stroke="#363620"/><circle cx="185.3" cy="241.8" r="1.55" fill="#f7fab8" stroke="#363620"/><circle cx="102.1" cy="244.7" r="1.55" fill="#f7fab8" stroke="#363620"/><circle cx="186.2" cy="194.5" r="1.55" fill="#9aead3" stroke="#24423a"/><circle cx="123.8" cy="207.3" r="1.55" fill="#f7fab8" stroke="#363620"/><circle cx="213.2" cy="155.5" r="1.55" fill="#9aead3" stroke="#24423a"/><circle cx="278.9" cy="187.3" r="1.55" fill="#9aead3" stroke="#24423a"/><circle cx="206.0" cy="165.2" r="1.55" fill="#9aead3" stroke="#24423a"/><circle cx="155.7" cy="153.0" r="1.55" fill="#9aead3" stroke="#24423a"/><circle cx="238.9" cy="190.6" r="1.55" fill="#9aead3" stroke="#24423a"/><circle cx="192.7" cy="144.0" r="1.55" fill="#9aead3" stroke="#24423a"/><circle cx="303.0" cy="175.4" r="1.55" fill="#9aead3" stroke="#24423a"/><circle cx="280.1" cy="123.3" r="1.55" fill="#9aead3" stroke="#24423a"/><circle cx="133.8" cy="139.6" r="1.55" fill="#9aead3" stroke="#24423a"/><circle cx="146.0" cy="111.9" r="1.55" fill="#9aead3" stroke="#24423a"/><circle cx="92.3" cy="211.9" r="1.55" fill="#f7fab8" stroke="#363620"/><circle cx="195.2" cy="124.4" r="1.55" fill="#9aead3" stroke="#24423a"/><circle cx="146.6" cy="224.4" r="1.55" fill="#f7fab8" stroke="#363620"/><circle cx="275.6" cy="165.3" r="1.55" fill="#9aead3" stroke="#24423a"/><circle cx="227.4" cy="100.3" r="1.55" fill="#9aead3" stroke="#24423a"/><circle cx="209.4" cy="121.5" r="1.55" fill="#9aead3" stroke="#24423a"/><circle cx="268.6" cy="222.9" r="1.55" fill="#9aead3" stroke="#24423a"/><circle cx="292.3" cy="135.7" r="1.55" fill="#9aead3" stroke="#24423a"/><circle cx="146.7" cy="264.2" r="1.55" fill="#f7fab8" stroke="#363620"/><circle cx="154.8" cy="150.3" r="1.55" fill="#9aead3" stroke="#24423a"/><circle cx="200.7" cy="226.3" r="1.55" fill="#f7fab8" stroke="#363620"/><circle cx="134.6" cy="177.1" r="1.55" fill="#f7fab8" stroke="#363620"/><circle cx="67.6" cy="199.8" r="1.55" fill="#f7fab8" stroke="#363620"/><circle cx="200.8" cy="289.8" r="1.55" fill="#f7fab8" stroke="#363620"/><circle cx="140.7" cy="295.2" r="1.55" fill="#f7fab8" stroke="#363620"/><circle cx="205.6" cy="194.0" r="1.55" fill="#f7fab8" stroke="#363620"/><circle cx="247.8" cy="236.2" r="1.55" fill="#f7fab8" stroke="#363620"/><circle cx="234.4" cy="228.8" r="1.55" fill="#f7fab8" stroke="#363620"/><circle cx="103.2" cy="218.0" r="1.55" fill="#f7fab8" stroke="#363620"/><circle cx="240.3" cy="131.8" r="1.55" fill="#9aead3" stroke="#24423a"/><circle cx="59.1" cy="253.7" r="1.55" fill="#f7fab8" stroke="#363620"/><circle cx="155.8" cy="123.0" r="1.55" fill="#9aead3" stroke="#24423a"/><circle cx="138.3" cy="233.5" r="1.55" fill="#f7fab8" stroke="#363620"/><circle cx="175.1" cy="234.0" r="1.55" fill="#f7fab8" stroke="#363620"/><circle cx="108.5" cy="178.8" r="1.55" fill="#f7fab8" stroke="#363620"/><circle cx="230.5" cy="119.9" r="1.55" fill="#9aead3" stroke="#24423a"/><circle cx="76.6" cy="266.2" r="1.55" fill="#f7fab8" stroke="#363620"/><circle cx="229.6" cy="131.0" r="1.55" fill="#9aead3" stroke="#24423a"/><circle cx="263.2" cy="183.0" r="1.55" fill="#9aead3" stroke="#24423a"/><circle cx="283.4" cy="156.9" r="1.55" fill="#9aead3" stroke="#24423a"/><circle cx="98.2" cy="258.3" r="1.55" fill="#f7fab8" stroke="#363620"/><circle cx="198.2" cy="181.4" r="1.55" fill="#9aead3" stroke="#24423a"/><circle cx="193.7" cy="141.4" r="1.55" fill="#9aead3" stroke="#24423a"/><circle cx="74.4" cy="159.7" r="1.55" fill="#f7fab8" stroke="#363620"/><circle cx="172.9" cy="143.3" r="1.55" fill="#9aead3" stroke="#24423a"/><circle cx="178.1" cy="280.8" r="1.55" fill="#f7fab8" stroke="#363620"/><circle cx="182.8" cy="261.3" r="1.55" fill="#f7fab8" stroke="#363620"/><circle cx="194.1" cy="191.5" r="1.55" fill="#f7fab8" stroke="#363620"/><circle cx="173.3" cy="249.8" r="1.55" fill="#f7fab8" stroke="#363620"/><circle cx="111.3" cy="203.6" r="1.55" fill="#f7fab8" stroke="#363620"/><circle cx="192.4" cy="118.0" r="1.55" fill="#9aead3" stroke="#24423a"/><circle cx="206.0" cy="181.7" r="1.55" fill="#9aead3" stroke="#24423a"/><circle cx="174.7" cy="269.9" r="1.55" fill="#f7fab8" stroke="#363620"/><circle cx="120.2" cy="277.8" r="1.55" fill="#f7fab8" stroke="#363620"/><circle cx="126.3" cy="264.3" r="1.55" fill="#f7fab8" stroke="#363620"/><circle cx="161.2" cy="227.0" r="1.55" fill="#f7fab8" stroke="#363620"/><circle cx="95.4" cy="236.5" r="1.55" fill="#f7fab8" stroke="#363620"/><circle cx="263.3" cy="188.3" r="1.55" fill="#9aead3" stroke="#24423a"/><circle cx="161.9" cy="153.9" r="1.55" fill="#9aead3" stroke="#24423a"/><circle cx="99.6" cy="194.4" r="1.55" fill="#f7fab8" stroke="#363620"/><circle cx="159.2" cy="257.8" r="1.55" fill="#f7fab8" stroke="#363620"/><circle cx="199.4" cy="80.9" r="1.55" fill="#9aead3" stroke="#24423a"/><circle cx="66.1" cy="171.2" r="1.55" fill="#9aead3" stroke="#24423a"/><circle cx="241.7" cy="106.8" r="1.55" fill="#9aead3" stroke="#24423a"/><circle cx="246.1" cy="205.0" r="1.55" fill="#9aead3" stroke="#24423a"/><circle cx="94.9" cy="187.5" r="1.55" fill="#f7fab8" stroke="#363620"/><circle cx="209.8" cy="146.3" r="1.55" fill="#9aead3" stroke="#24423a"/><circle cx="182.8" cy="205.3" r="1.55" fill="#f7fab8" stroke="#363620"/><circle cx="74.4" cy="195.1" r="1.55" fill="#f7fab8" stroke="#363620"/><circle cx="94.6" cy="267.6" r="1.55" fill="#f7fab8" stroke="#363620"/><circle cx="196.7" cy="265.4" r="1.55" fill="#f7fab8" stroke="#363620"/><circle cx="57.3" cy="209.4" r="1.55" fill="#f7fab8" stroke="#363620"/><circle cx="291.0" cy="131.6" r="1.55" fill="#9aead3" stroke="#24423a"/><circle cx="165.7" cy="188.1" r="1.55" fill="#9aead3" stroke="#24423a"/><circle cx="114.6" cy="282.3" r="1.55" fill="#f7fab8" stroke="#363620"/><circle cx="241.6" cy="219.6" r="1.55" fill="#9aead3" stroke="#24423a"/><circle cx="197.6" cy="289.5" r="1.55" fill="#f7fab8" stroke="#363620"/><circle cx="231.0" cy="198.2" r="1.55" fill="#9aead3" stroke="#24423a"/><circle cx="202.9" cy="163.1" r="1.55" fill="#9aead3" stroke="#24423a"/><circle cx="240.5" cy="154.3" r="1.55" fill="#9aead3" stroke="#24423a"/><circle cx="223.3" cy="181.2" r="1.55" fill="#9aead3" stroke="#24423a"/><circle cx="253.9" cy="164.9" r="1.55" fill="#9aead3" stroke="#24423a"/><circle cx="162.8" cy="202.0" r="1.55" fill="#f7fab8" stroke="#363620"/><circle cx="183.2" cy="250.3" r="1.55" fill="#f7fab8" stroke="#363620"/><circle cx="229.0" cy="110.5" r="1.55" fill="#9aead3" stroke="#24423a"/><circle cx="234.6" cy="269.9" r="1.55" fill="#f7fab8" stroke="#363620"/><circle cx="263.0" cy="166.9" r="1.55" fill="#9aead3" stroke="#24423a"/><circle cx="210.4" cy="120.6" r="1.55" fill="#9aead3" stroke="#24423a"/><circle cx="202.1" cy="187.6" r="1.55" fill="#9aead3" stroke="#24423a"/><circle cx="301.9" cy="209.0" r="1.55" fill="#9aead3" stroke="#24423a"/><circle cx="146.6" cy="195.9" r="1.55" fill="#f7fab8" stroke="#363620"/><circle cx="119.9" cy="200.8" r="1.55" fill="#f7fab8" stroke="#363620"/><circle cx="150.5" cy="84.8" r="1.55" fill="#9aead3" stroke="#24423a"/><circle cx="163.3" cy="190.9" r="1.55" fill="#9aead3" stroke="#24423a"/><circle cx="74.5" cy="189.7" r="1.55" fill="#f7fab8" stroke="#363620"/><circle cx="253.5" cy="110.9" r="1.55" fill="#9aead3" stroke="#24423a"/><circle cx="248.4" cy="98.6" r="1.55" fill="#9aead3" stroke="#24423a"/><circle cx="239.8" cy="241.0" r="1.55" fill="#f7fab8" stroke="#363620"/><circle cx="153.2" cy="253.2" r="1.55" fill="#f7fab8" stroke="#363620"/><circle cx="221.5" cy="157.5" r="1.55" fill="#9aead3" stroke="#24423a"/><circle cx="60.7" cy="215.2" r="1.55" fill="#f7fab8" stroke="#363620"/><circle cx="135.0" cy="89.8" r="1.55" fill="#9aead3" stroke="#24423a"/><circle cx="170.6" cy="172.8" r="1.55" fill="#9aead3" stroke="#24423a"/><circle cx="263.9" cy="171.3" r="1.55" fill="#9aead3" stroke="#24423a"/><circle cx="124.1" cy="138.4" r="1.55" fill="#9aead3" stroke="#24423a"/><circle cx="297.4" cy="172.9" r="1.55" fill="#9aead3" stroke="#24423a"/><circle cx="217.6" cy="249.0" r="1.55" fill="#f7fab8" stroke="#363620"/><circle cx="107.7" cy="245.3" r="1.55" fill="#f7fab8" stroke="#363620"/><circle cx="122.3" cy="201.5" r="1.55" fill="#f7fab8" stroke="#363620"/><circle cx="202.8" cy="160.4" r="1.55" fill="#9aead3" stroke="#24423a"/><circle cx="168.3" cy="293.5" r="1.55" fill="#f7fab8" stroke="#363620"/><circle cx="266.6" cy="155.9" r="1.55" fill="#9aead3" stroke="#24423a"/><circle cx="194.1" cy="168.2" r="1.55" fill="#9aead3" stroke="#24423a"/><circle cx="124.5" cy="138.8" r="1.55" fill="#9aead3" stroke="#24423a"/><circle cx="194.5" cy="180.2" r="1.55" fill="#9aead3" stroke="#24423a"/><circle cx="233.7" cy="229.5" r="1.55" fill="#f7fab8" stroke="#363620"/><circle cx="126.0" cy="274.5" r="1.55" fill="#f7fab8" stroke="#363620"/><circle cx="207.8" cy="198.0" r="1.55" fill="#f7fab8" stroke="#363620"/><circle cx="180.4" cy="89.1" r="1.55" fill="#9aead3" stroke="#24423a"/><circle cx="77.1" cy="230.2" r="1.55" fill="#f7fab8" stroke="#363620"/><circle cx="237.5" cy="176.7" r="1.55" fill="#9aead3" stroke="#24423a"/><circle cx="85.6" cy="157.4" r="1.55" fill="#f7fab8" stroke="#363620"/><circle cx="279.6" cy="158.8" r="1.55" fill="#9aead3" stroke="#24423a"/><circle cx="137.4" cy="188.9" r="1.55" fill="#f7fab8" stroke="#363620"/><circle cx="143.9" cy="259.7" r="1.55" fill="#f7fab8" stroke="#363620"/><circle cx="163.3" cy="231.3" r="1.55" fill="#f7fab8" stroke="#363620"/><circle cx="104.3" cy="235.4" r="1.55" fill="#f7fab8" stroke="#363620"/><circle cx="118.7" cy="253.1" r="1.55" fill="#f7fab8" stroke="#363620"/><circle cx="150.8" cy="211.4" r="1.55" fill="#f7fab8" stroke="#363620"/><circle cx="139.1" cy="258.5" r="1.55" fill="#f7fab8" stroke="#363620"/><circle cx="215.4" cy="190.1" r="1.55" fill="#9aead3" stroke="#24423a"/><circle cx="253.6" cy="128.5" r="1.55" fill="#9aead3" stroke="#24423a"/><circle cx="191.9" cy="244.0" r="1.55" fill="#f7fab8" stroke="#363620"/><circle cx="128.7" cy="187.5" r="1.55" fill="#f7fab8" stroke="#363620"/><circle cx="94.6" cy="235.5" r="1.55" fill="#f7fab8" stroke="#363620"/><circle cx="274.5" cy="145.4" r="1.55" fill="#9aead3" stroke="#24423a"/><circle cx="197.0" cy="158.7" r="1.55" fill="#9aead3" stroke="#24423a"/><circle cx="124.0" cy="235.0" r="1.55" fill="#f7fab8" stroke="#363620"/><circle cx="183.0" cy="195.8" r="1.55" fill="#f7fab8" stroke="#363620"/><circle cx="275.0" cy="179.2" r="1.55" fill="#9aead3" stroke="#24423a"/><circle cx="215.2" cy="177.8" r="1.55" fill="#9aead3" stroke="#24423a"/><circle cx="217.6" cy="240.4" r="1.55" fill="#f7fab8" stroke="#363620"/><circle cx="138.3" cy="240.7" r="1.55" fill="#f7fab8" stroke="#363620"/><circle cx="173.9" cy="187.0" r="1.55" fill="#9aead3" stroke="#24423a"/><circle cx="116.0" cy="222.8" r="1.55" fill="#f7fab8" stroke="#363620"/><circle cx="199.9" cy="291.8" r="1.55" fill="#f7fab8" stroke="#363620"/><circle cx="293.2" cy="209.7" r="1.55" fill="#9aead3" stroke="#24423a"/><circle cx="139.2" cy="237.2" r="1.55" fill="#f7fab8" stroke="#363620"/><circle cx="199.5" cy="188.5" r="1.55" fill="#9aead3" stroke="#24423a"/><circle cx="94.2" cy="166.1" r="1.55" fill="#f7fab8" stroke="#363620"/><circle cx="127.1" cy="140.9" r="1.55" fill="#9aead3" stroke="#24423a"/><circle cx="221.7" cy="137.7" r="1.55" fill="#9aead3" stroke="#24423a"/><circle cx="278.0" cy="126.3" r="1.55" fill="#9aead3" stroke="#24423a"/><circle cx="73.3" cy="250.4" r="1.55" fill="#f7fab8" stroke="#363620"/><circle cx="76.5" cy="277.0" r="1.55" fill="#f7fab8" stroke="#363620"/><circle cx="177.7" cy="143.2" r="1.55" fill="#9aead3" stroke="#24423a"/><circle cx="199.9" cy="90.6" r="1.55" fill="#9aead3" stroke="#24423a"/><circle cx="187.3" cy="218.2" r="1.55" fill="#f7fab8" stroke="#363620"/><circle cx="203.9" cy="214.6" r="1.55" fill="#9aead3" stroke="#24423a"/><circle cx="81.5" cy="280.5" r="1.55" fill="#f7fab8" stroke="#363620"/><circle cx="153.3" cy="234.9" r="1.55" fill="#f7fab8" stroke="#363620"/><circle cx="217.9" cy="176.1" r="1.55" fill="#9aead3" stroke="#24423a"/><circle cx="161.4" cy="244.5" r="1.55" fill="#f7fab8" stroke="#363620"/><circle cx="123.0" cy="141.6" r="1.55" fill="#9aead3" stroke="#24423a"/><circle cx="251.3" cy="198.3" r="1.55" fill="#9aead3" stroke="#24423a"/><circle cx="311.0" cy="193.6" r="1.55" fill="#9aead3" stroke="#24423a"/><circle cx="261.1" cy="212.8" r="1.55" fill="#9aead3" stroke="#24423a"/><circle cx="90.7" cy="269.6" r="1.55" fill="#f7fab8" stroke="#363620"/><circle cx="58.7" cy="231.7" r="1.55" fill="#f7fab8" stroke="#363620"/><circle cx="175.1" cy="258.9" r="1.55" fill="#f7fab8" stroke="#363620"/><circle cx="184.2" cy="104.5" r="1.55" fill="#9aead3" stroke="#24423a"/><circle cx="91.8" cy="161.6" r="1.55" fill="#f7fab8" stroke="#363620"/><circle cx="285.3" cy="182.5" r="1.55" fill="#9aead3" stroke="#24423a"/><circle cx="125.8" cy="102.4" r="1.55" fill="#9aead3" stroke="#24423a"/><circle cx="274.1" cy="184.3" r="1.55" fill="#9aead3" stroke="#24423a"/><circle cx="188.4" cy="166.1" r="1.55" fill="#9aead3" stroke="#24423a"/><circle cx="129.8" cy="149.7" r="1.55" fill="#9aead3" stroke="#24423a"/><circle cx="135.8" cy="167.3" r="1.55" fill="#9aead3" stroke="#24423a"/><circle cx="254.3" cy="168.9" r="1.55" fill="#9aead3" stroke="#24423a"/><circle cx="200.0" cy="188.1" r="1.55" fill="#f7fab8" stroke="#363620"/><circle cx="237.0" cy="222.2" r="1.55" fill="#9aead3" stroke="#24423a"/><circle cx="185.3" cy="165.3" r="1.55" fill="#9aead3" stroke="#24423a"/><circle cx="137.8" cy="208.8" r="1.55" fill="#f7fab8" stroke="#363620"/><circle cx="190.2" cy="281.7" r="1.55" fill="#f7fab8" stroke="#363620"/><circle cx="198.0" cy="267.5" r="1.55" fill="#f7fab8" stroke="#363620"/><circle cx="286.4" cy="213.7" r="1.55" fill="#9aead3" stroke="#24423a"/><circle cx="180.0" cy="83.6" r="1.55" fill="#9aead3" stroke="#24423a"/><circle cx="303.6" cy="162.9" r="1.55" fill="#9aead3" stroke="#24423a"/><circle cx="282.2" cy="161.6" r="1.55" fill="#9aead3" stroke="#24423a"/><circle cx="127.2" cy="106.9" r="1.55" fill="#9aead3" stroke="#24423a"/><circle cx="168.4" cy="247.9" r="1.55" fill="#f7fab8" stroke="#363620"/><circle cx="183.8" cy="203.8" r="1.55" fill="#9aead3" stroke="#24423a"/><circle cx="214.5" cy="111.0" r="1.55" fill="#9aead3" stroke="#24423a"/><circle cx="218.5" cy="138.9" r="1.55" fill="#9aead3" stroke="#24423a"/><circle cx="209.9" cy="221.2" r="1.55" fill="#f7fab8" stroke="#363620"/><circle cx="203.6" cy="278.4" r="1.55" fill="#f7fab8" stroke="#363620"/><circle cx="149.2" cy="122.6" r="1.55" fill="#9aead3" stroke="#24423a"/><circle cx="72.2" cy="246.6" r="1.55" fill="#f7fab8" stroke="#363620"/><circle cx="140.9" cy="230.5" r="1.55" fill="#f7fab8" stroke="#363620"/><circle cx="208.4" cy="270.2" r="1.55" fill="#f7fab8" stroke="#363620"/><circle cx="158.5" cy="300.4" r="1.55" fill="#f7fab8" stroke="#363620"/><circle cx="186.5" cy="170.3" r="1.55" fill="#9aead3" stroke="#24423a"/><circle cx="241.0" cy="176.0" r="1.55" fill="#9aead3" stroke="#24423a"/><circle cx="102.9" cy="216.8" r="1.55" fill="#f7fab8" stroke="#363620"/><circle cx="89.3" cy="159.0" r="1.55" fill="#9aead3" stroke="#24423a"/><circle cx="222.8" cy="142.8" r="1.55" fill="#9aead3" stroke="#24423a"/><circle cx="126.2" cy="134.0" r="1.55" fill="#9aead3" stroke="#24423a"/><circle cx="125.3" cy="152.1" r="1.55" fill="#9aead3" stroke="#24423a"/><circle cx="125.5" cy="232.5" r="1.55" fill="#f7fab8" stroke="#363620"/><circle cx="186.2" cy="272.8" r="1.55" fill="#f7fab8" stroke="#363620"/><circle cx="105.7" cy="183.6" r="1.55" fill="#f7fab8" stroke="#363620"/><circle cx="90.5" cy="256.8" r="1.55" fill="#f7fab8" stroke="#363620"/><circle cx="185.1" cy="245.2" r="1.55" fill="#f7fab8" stroke="#363620"/><circle cx="209.2" cy="211.9" r="1.55" fill="#9aead3" stroke="#24423a"/><circle cx="308.1" cy="170.6" r="1.55" fill="#9aead3" stroke="#24423a"/><circle cx="284.1" cy="190.1" r="1.55" fill="#9aead3" stroke="#24423a"/><circle cx="189.2" cy="281.9" r="1.55" fill="#f7fab8" stroke="#363620"/><circle cx="77.3" cy="230.8" r="1.55" fill="#f7fab8" stroke="#363620"/><circle cx="158.4" cy="255.7" r="1.55" fill="#f7fab8" stroke="#363620"/><circle cx="231.0" cy="212.4" r="1.55" fill="#f7fab8" stroke="#363620"/><circle cx="237.9" cy="162.7" r="1.55" fill="#9aead3" stroke="#24423a"/><circle cx="63.4" cy="205.2" r="1.55" fill="#f7fab8" stroke="#363620"/><circle cx="129.4" cy="204.4" r="1.55" fill="#f7fab8" stroke="#363620"/><circle cx="214.7" cy="190.4" r="1.55" fill="#9aead3" stroke="#24423a"/><circle cx="317.2" cy="179.6" r="1.55" fill="#9aead3" stroke="#24423a"/><circle cx="174.7" cy="208.0" r="1.55" fill="#f7fab8" stroke="#363620"/><circle cx="193.4" cy="214.0" r="1.55" fill="#9aead3" stroke="#24423a"/><circle cx="203.6" cy="245.3" r="1.55" fill="#f7fab8" stroke="#363620"/><circle cx="181.7" cy="116.1" r="1.55" fill="#9aead3" stroke="#24423a"/><circle cx="288.6" cy="143.5" r="1.55" fill="#9aead3" stroke="#24423a"/><circle cx="297.6" cy="153.2" r="1.55" fill="#9aead3" stroke="#24423a"/><circle cx="205.0" cy="218.7" r="1.55" fill="#9aead3" stroke="#24423a"/><circle cx="188.2" cy="289.0" r="1.55" fill="#f7fab8" stroke="#363620"/><circle cx="97.1" cy="202.0" r="1.55" fill="#f7fab8" stroke="#363620"/><circle cx="138.8" cy="113.4" r="1.55" fill="#9aead3" stroke="#24423a"/><circle cx="290.7" cy="138.1" r="1.55" fill="#9aead3" stroke="#24423a"/><circle cx="71.2" cy="193.2" r="1.55" fill="#f7fab8" stroke="#363620"/><circle cx="154.7" cy="124.5" r="1.55" fill="#9aead3" stroke="#24423a"/><circle cx="183.0" cy="110.3" r="1.55" fill="#9aead3" stroke="#24423a"/><circle cx="284.6" cy="175.4" r="1.55" fill="#9aead3" stroke="#24423a"/><circle cx="285.1" cy="135.4" r="1.55" fill="#9aead3" stroke="#24423a"/><circle cx="174.2" cy="187.3" r="1.55" fill="#f7fab8" stroke="#363620"/><circle cx="181.4" cy="248.0" r="1.55" fill="#f7fab8" stroke="#363620"/><circle cx="176.2" cy="119.9" r="1.55" fill="#9aead3" stroke="#24423a"/><circle cx="167.2" cy="257.7" r="1.55" fill="#f7fab8" stroke="#363620"/><circle cx="141.1" cy="273.5" r="1.55" fill="#f7fab8" stroke="#363620"/><circle cx="226.1" cy="215.2" r="1.55" fill="#f7fab8" stroke="#363620"/><circle cx="110.3" cy="222.7" r="1.55" fill="#f7fab8" stroke="#363620"/><circle cx="148.0" cy="171.2" r="1.55" fill="#9aead3" stroke="#24423a"/><circle cx="87.8" cy="196.4" r="1.55" fill="#f7fab8" stroke="#363620"/><circle cx="148.0" cy="261.9" r="1.55" fill="#f7fab8" stroke="#363620"/><circle cx="317.0" cy="187.8" r="1.55" fill="#9aead3" stroke="#24423a"/><circle cx="162.3" cy="116.5" r="1.55" fill="#9aead3" stroke="#24423a"/><circle cx="250.1" cy="105.2" r="1.55" fill="#9aead3" stroke="#24423a"/><circle cx="300.7" cy="144.1" r="1.55" fill="#9aead3" stroke="#24423a"/><circle cx="158.0" cy="265.0" r="1.55" fill="#f7fab8" stroke="#363620"/><circle cx="221.3" cy="148.5" r="1.55" fill="#9aead3" stroke="#24423a"/><circle cx="180.6" cy="248.7" r="1.55" fill="#f7fab8" stroke="#363620"/><circle cx="169.6" cy="115.4" r="1.55" fill="#9aead3" stroke="#24423a"/><circle cx="306.3" cy="210.6" r="1.55" fill="#9aead3" stroke="#24423a"/><circle cx="204.3" cy="259.9" r="1.55" fill="#f7fab8" stroke="#363620"/><circle cx="77.6" cy="225.0" r="1.55" fill="#f7fab8" stroke="#363620"/><circle cx="293.6" cy="148.2" r="1.55" fill="#9aead3" stroke="#24423a"/><circle cx="150.9" cy="110.0" r="1.55" fill="#9aead3" stroke="#24423a"/><circle cx="101.1" cy="271.6" r="1.55" fill="#f7fab8" stroke="#363620"/><circle cx="182.7" cy="141.2" r="1.55" fill="#9aead3" stroke="#24423a"/><circle cx="236.6" cy="237.8" r="1.55" fill="#f7fab8" stroke="#363620"/><circle cx="189.4" cy="126.6" r="1.55" fill="#9aead3" stroke="#24423a"/><circle cx="149.8" cy="154.1" r="1.55" fill="#9aead3" stroke="#24423a"/><circle cx="202.4" cy="238.0" r="1.55" fill="#f7fab8" stroke="#363620"/><circle cx="235.7" cy="223.2" r="1.55" fill="#f7fab8" stroke="#363620"/><circle cx="137.0" cy="92.2" r="1.55" fill="#9aead3" stroke="#24423a"/><circle cx="136.5" cy="277.4" r="1.55" fill="#f7fab8" stroke="#363620"/><circle cx="153.5" cy="217.4" r="1.55" fill="#f7fab8" stroke="#363620"/><circle cx="144.2" cy="230.3" r="1.55" fill="#f7fab8" stroke="#363620"/><circle cx="205.7" cy="91.6" r="1.55" fill="#9aead3" stroke="#24423a"/><circle cx="125.4" cy="104.0" r="1.55" fill="#9aead3" stroke="#24423a"/><circle cx="228.1" cy="90.7" r="1.55" fill="#9aead3" stroke="#24423a"/><circle cx="223.5" cy="180.2" r="1.55" fill="#9aead3" stroke="#24423a"/><circle cx="291.7" cy="220.2" r="1.55" fill="#9aead3" stroke="#24423a"/><circle cx="84.3" cy="266.9" r="1.55" fill="#f7fab8" stroke="#363620"/><circle cx="147.0" cy="218.5" r="1.55" fill="#f7fab8" stroke="#363620"/><circle cx="138.9" cy="185.8" r="1.55" fill="#f7fab8" stroke="#363620"/><circle cx="195.4" cy="266.6" r="1.55" fill="#f7fab8" stroke="#363620"/><circle cx="159.4" cy="221.9" r="1.55" fill="#f7fab8" stroke="#363620"/><circle cx="103.2" cy="206.6" r="1.55" fill="#f7fab8" stroke="#363620"/><circle cx="205.2" cy="282.4" r="1.55" fill="#f7fab8" stroke="#363620"/><circle cx="123.6" cy="146.2" r="1.55" fill="#9aead3" stroke="#24423a"/><circle cx="160.7" cy="214.0" r="1.55" fill="#f7fab8" stroke="#363620"/><circle cx="250.8" cy="137.5" r="1.55" fill="#9aead3" stroke="#24423a"/><circle cx="135.9" cy="110.5" r="1.55" fill="#9aead3" stroke="#24423a"/><circle cx="191.9" cy="97.6" r="1.55" fill="#9aead3" stroke="#24423a"/><circle cx="232.0" cy="124.8" r="1.55" fill="#9aead3" stroke="#24423a"/><circle cx="71.2" cy="234.9" r="1.55" fill="#f7fab8" stroke="#363620"/><circle cx="283.8" cy="136.2" r="1.55" fill="#9aead3" stroke="#24423a"/><circle cx="217.7" cy="233.2" r="1.55" fill="#f7fab8" stroke="#363620"/><circle cx="190.3" cy="272.1" r="1.55" fill="#f7fab8" stroke="#363620"/><circle cx="246.1" cy="143.1" r="1.55" fill="#9aead3" stroke="#24423a"/><circle cx="224.9" cy="252.7" r="1.55" fill="#f7fab8" stroke="#363620"/><circle cx="122.6" cy="244.8" r="1.55" fill="#f7fab8" stroke="#363620"/><circle cx="232.5" cy="138.5" r="1.55" fill="#9aead3" stroke="#24423a"/><circle cx="167.9" cy="105.0" r="1.55" fill="#9aead3" stroke="#24423a"/><circle cx="135.2" cy="264.2" r="1.55" fill="#f7fab8" stroke="#363620"/><circle cx="181.9" cy="80.9" r="1.55" fill="#9aead3" stroke="#24423a"/><circle cx="268.2" cy="108.6" r="1.55" fill="#9aead3" stroke="#24423a"/><circle cx="233.7" cy="97.1" r="1.55" fill="#9aead3" stroke="#24423a"/><circle cx="146.1" cy="222.1" r="1.55" fill="#f7fab8" stroke="#363620"/><circle cx="300.7" cy="138.5" r="1.55" fill="#9aead3" stroke="#24423a"/><circle cx="99.2" cy="212.2" r="1.55" fill="#f7fab8" stroke="#363620"/><circle cx="200.5" cy="88.3" r="1.55" fill="#9aead3" stroke="#24423a"/><circle cx="104.3" cy="275.8" r="1.55" fill="#f7fab8" stroke="#363620"/><circle cx="144.7" cy="116.7" r="1.55" fill="#9aead3" stroke="#24423a"/><circle cx="263.4" cy="214.4" r="1.55" fill="#9aead3" stroke="#24423a"/><circle cx="166.4" cy="265.9" r="1.55" fill="#f7fab8" stroke="#363620"/><circle cx="128.9" cy="208.9" r="1.55" fill="#f7fab8" stroke="#363620"/><circle cx="255.5" cy="155.3" r="1.55" fill="#9aead3" stroke="#24423a"/><circle cx="181.4" cy="128.3" r="1.55" fill="#9aead3" stroke="#24423a"/><circle cx="166.5" cy="272.5" r="1.55" fill="#f7fab8" stroke="#363620"/><circle cx="128.5" cy="277.3" r="1.55" fill="#f7fab8" stroke="#363620"/><circle cx="311.0" cy="201.3" r="1.55" fill="#9aead3" stroke="#24423a"/><circle cx="172.2" cy="257.0" r="1.55" fill="#f7fab8" stroke="#363620"/><circle cx="271.3" cy="223.2" r="1.55" fill="#9aead3" stroke="#24423a"/><circle cx="123.6" cy="224.8" r="1.55" fill="#f7fab8" stroke="#363620"/><circle cx="274.1" cy="195.2" r="1.55" fill="#9aead3" stroke="#24423a"/><circle cx="219.5" cy="198.3" r="1.55" fill="#9aead3" stroke="#24423a"/><circle cx="274.8" cy="113.6" r="1.55" fill="#9aead3" stroke="#24423a"/><circle cx="51.7" cy="212.3" r="1.55" fill="#f7fab8" stroke="#363620"/><circle cx="127.5" cy="256.8" r="1.55" fill="#f7fab8" stroke="#363620"/><circle cx="158.9" cy="268.4" r="1.55" fill="#f7fab8" stroke="#363620"/><circle cx="66.2" cy="207.7" r="1.55" fill="#f7fab8" stroke="#363620"/><circle cx="192.2" cy="160.9" r="1.55" fill="#9aead3" stroke="#24423a"/><circle cx="176.6" cy="271.1" r="1.55" fill="#f7fab8" stroke="#363620"/><circle cx="256.8" cy="229.3" r="1.55" fill="#9aead3" stroke="#24423a"/><circle cx="99.8" cy="202.2" r="1.55" fill="#f7fab8" stroke="#363620"/><circle cx="227.9" cy="184.6" r="1.55" fill="#9aead3" stroke="#24423a"/><circle cx="132.4" cy="119.6" r="1.55" fill="#9aead3" stroke="#24423a"/><circle cx="144.7" cy="202.1" r="1.55" fill="#f7fab8" stroke="#363620"/><circle cx="166.8" cy="134.6" r="1.55" fill="#9aead3" stroke="#24423a"/><circle cx="220.5" cy="87.4" r="1.55" fill="#9aead3" stroke="#24423a"/><circle cx="83.9" cy="193.0" r="1.55" fill="#f7fab8" stroke="#363620"/><circle cx="148.1" cy="135.7" r="1.55" fill="#9aead3" stroke="#24423a"/><circle cx="159.0" cy="207.7" r="1.55" fill="#f7fab8" stroke="#363620"/><circle cx="267.5" cy="181.0" r="1.55" fill="#9aead3" stroke="#24423a"/><circle cx="241.9" cy="200.7" r="1.55" fill="#9aead3" stroke="#24423a"/><circle cx="168.7" cy="116.0" r="1.55" fill="#9aead3" stroke="#24423a"/><circle cx="162.8" cy="139.1" r="1.55" fill="#9aead3" stroke="#24423a"/><circle cx="112.9" cy="283.5" r="1.55" fill="#f7fab8" stroke="#363620"/><circle cx="204.2" cy="131.7" r="1.55" fill="#9aead3" stroke="#24423a"/><circle cx="150.9" cy="239.9" r="1.55" fill="#f7fab8" stroke="#363620"/><circle cx="107.4" cy="258.9" r="1.55" fill="#f7fab8" stroke="#363620"/><circle cx="128.7" cy="141.7" r="1.55" fill="#9aead3" stroke="#24423a"/><circle cx="300.2" cy="151.9" r="1.55" fill="#9aead3" stroke="#24423a"/><circle cx="69.9" cy="176.9" r="1.55" fill="#9aead3" stroke="#24423a"/><circle cx="206.9" cy="113.1" r="1.55" fill="#9aead3" stroke="#24423a"/><circle cx="134.7" cy="267.2" r="1.55" fill="#f7fab8" stroke="#363620"/><circle cx="108.1" cy="180.9" r="1.55" fill="#f7fab8" stroke="#363620"/><circle cx="278.0" cy="166.1" r="1.55" fill="#9aead3" stroke="#24423a"/><circle cx="279.1" cy="165.2" r="1.55" fill="#9aead3" stroke="#24423a"/><circle cx="275.0" cy="146.5" r="1.55" fill="#9aead3" stroke="#24423a"/><circle cx="198.2" cy="212.5" r="1.55" fill="#f7fab8" stroke="#363620"/><circle cx="79.6" cy="266.9" r="1.55" fill="#f7fab8" stroke="#363620"/><circle cx="177.3" cy="295.7" r="1.55" fill="#f7fab8" stroke="#363620"/><circle cx="169.4" cy="279.5" r="1.55" fill="#f7fab8" stroke="#363620"/><circle cx="133.0" cy="240.7" r="1.55" fill="#f7fab8" stroke="#363620"/><circle cx="152.4" cy="160.3" r="1.55" fill="#9aead3" stroke="#24423a"/><circle cx="177.4" cy="183.2" r="1.55" fill="#f7fab8" stroke="#363620"/><circle cx="240.8" cy="263.2" r="1.55" fill="#f7fab8" stroke="#363620"/><circle cx="181.1" cy="131.1" r="1.55" fill="#9aead3" stroke="#24423a"/><circle cx="146.7" cy="250.8" r="1.55" fill="#f7fab8" stroke="#363620"/><circle cx="100.6" cy="217.0" r="1.55" fill="#f7fab8" stroke="#363620"/><circle cx="101.1" cy="192.1" r="1.55" fill="#f7fab8" stroke="#363620"/><circle cx="240.4" cy="136.7" r="1.55" fill="#9aead3" stroke="#24423a"/><circle cx="205.4" cy="195.1" r="1.55" fill="#f7fab8" stroke="#363620"/><circle cx="109.3" cy="240.7" r="1.55" fill="#f7fab8" stroke="#363620"/><circle cx="159.8" cy="157.1" r="1.55" fill="#9aead3" stroke="#24423a"/><circle cx="229.2" cy="220.2" r="1.55" fill="#f7fab8" stroke="#363620"/><circle cx="176.8" cy="208.6" r="1.55" fill="#9aead3" stroke="#24423a"/><circle cx="204.1" cy="130.5" r="1.55" fill="#9aead3" stroke="#24423a"/><circle cx="177.0" cy="182.7" r="1.55" fill="#f7fab8" stroke="#363620"/><circle cx="201.0" cy="233.5" r="1.55" fill="#f7fab8" stroke="#363620"/><circle cx="245.5" cy="254.3" r="1.55" fill="#f7fab8" stroke="#363620"/><circle cx="223.9" cy="124.3" r="1.55" fill="#9aead3" stroke="#24423a"/><circle cx="167.2" cy="139.7" r="1.55" fill="#9aead3" stroke="#24423a"/><circle cx="314.2" cy="184.7" r="1.55" fill="#9aead3" stroke="#24423a"/><circle cx="244.3" cy="99.5" r="1.55" fill="#9aead3" stroke="#24423a"/><circle cx="141.9" cy="275.7" r="1.55" fill="#f7fab8" stroke="#363620"/><circle cx="174.3" cy="205.8" r="1.55" fill="#f7fab8" stroke="#363620"/><circle cx="247.8" cy="186.1" r="1.55" fill="#9aead3" stroke="#24423a"/><circle cx="181.4" cy="76.5" r="1.55" fill="#9aead3" stroke="#24423a"/><circle cx="298.1" cy="210.7" r="1.55" fill="#9aead3" stroke="#24423a"/><circle cx="205.1" cy="156.7" r="1.55" fill="#9aead3" stroke="#24423a"/><circle cx="146.3" cy="249.8" r="1.55" fill="#f7fab8" stroke="#363620"/><circle cx="88.5" cy="194.3" r="1.55" fill="#f7fab8" stroke="#363620"/><circle cx="205.3" cy="113.5" r="1.55" fill="#9aead3" stroke="#24423a"/><circle cx="194.4" cy="281.1" r="1.55" fill="#f7fab8" stroke="#363620"/><circle cx="106.2" cy="210.6" r="1.55" fill="#f7fab8" stroke="#363620"/><circle cx="287.0" cy="152.2" r="1.55" fill="#9aead3" stroke="#24423a"/><circle cx="229.3" cy="134.6" r="1.55" fill="#9aead3" stroke="#24423a"/><circle cx="156.3" cy="131.3" r="1.55" fill="#9aead3" stroke="#24423a"/><circle cx="213.2" cy="154.5" r="1.55" fill="#9aead3" stroke="#24423a"/><circle cx="196.9" cy="185.6" r="1.55" fill="#f7fab8" stroke="#363620"/><circle cx="119.0" cy="207.6" r="1.55" fill="#f7fab8" stroke="#363620"/><circle cx="96.2" cy="170.3" r="1.55" fill="#f7fab8" stroke="#363620"/><circle cx="73.6" cy="228.5" r="1.55" fill="#f7fab8" stroke="#363620"/><circle cx="253.4" cy="98.9" r="1.55" fill="#9aead3" stroke="#24423a"/><circle cx="197.3" cy="188.8" r="1.55" fill="#9aead3" stroke="#24423a"/><circle cx="138.2" cy="87.7" r="1.55" fill="#9aead3" stroke="#24423a"/><circle cx="142.9" cy="139.3" r="1.55" fill="#9aead3" stroke="#24423a"/><circle cx="170.1" cy="157.2" r="1.55" fill="#9aead3" stroke="#24423a"/><circle cx="52.9" cy="209.7" r="1.55" fill="#f7fab8" stroke="#363620"/><circle cx="111.2" cy="227.4" r="1.55" fill="#f7fab8" stroke="#363620"/><circle cx="138.7" cy="292.5" r="1.55" fill="#f7fab8" stroke="#363620"/><circle cx="153.0" cy="216.8" r="1.55" fill="#f7fab8" stroke="#363620"/><circle cx="314.0" cy="194.0" r="1.55" fill="#9aead3" stroke="#24423a"/><circle cx="174.1" cy="290.7" r="1.55" fill="#f7fab8" stroke="#363620"/><circle cx="233.4" cy="142.2" r="1.55" fill="#9aead3" stroke="#24423a"/><circle cx="261.8" cy="224.9" r="1.55" fill="#9aead3" stroke="#24423a"/><circle cx="199.2" cy="210.1" r="1.55" fill="#f7fab8" stroke="#363620"/><circle cx="198.5" cy="185.3" r="1.55" fill="#f7fab8" stroke="#363620"/><circle cx="73.4" cy="237.6" r="1.55" fill="#f7fab8" stroke="#363620"/><circle cx="179.6" cy="148.7" r="1.55" fill="#9aead3" stroke="#24423a"/><circle cx="143.6" cy="268.7" r="1.55" fill="#f7fab8" stroke="#363620"/><circle cx="261.1" cy="152.8" r="1.55" fill="#9aead3" stroke="#24423a"/><circle cx="170.3" cy="108.7" r="1.55" fill="#9aead3" stroke="#24423a"/><circle cx="173.6" cy="79.7" r="1.55" fill="#9aead3" stroke="#24423a"/><circle cx="208.4" cy="286.4" r="1.55" fill="#f7fab8" stroke="#363620"/><circle cx="75.9" cy="157.8" r="1.55" fill="#9aead3" stroke="#24423a"/><circle cx="132.6" cy="266.6" r="1.55" fill="#f7fab8" stroke="#363620"/><circle cx="176.1" cy="109.3" r="1.55" fill="#9aead3" stroke="#24423a"/><circle cx="200.3" cy="278.4" r="1.55" fill="#f7fab8" stroke="#363620"/><circle cx="103.0" cy="262.4" r="1.55" fill="#f7fab8" stroke="#363620"/><circle cx="141.3" cy="129.3" r="1.55" fill="#9aead3" stroke="#24423a"/><circle cx="199.1" cy="232.8" r="1.55" fill="#f7fab8" stroke="#363620"/><circle cx="141.2" cy="259.2" r="1.55" fill="#f7fab8" stroke="#363620"/><circle cx="260.8" cy="215.1" r="1.55" fill="#9aead3" stroke="#24423a"/><circle cx="244.3" cy="263.2" r="1.55" fill="#f7fab8" stroke="#363620"/><circle cx="110.4" cy="237.6" r="1.55" fill="#f7fab8" stroke="#363620"/><circle cx="272.9" cy="175.1" r="1.55" fill="#9aead3" stroke="#24423a"/><circle cx="64.8" cy="216.0" r="1.55" fill="#f7fab8" stroke="#363620"/><circle cx="173.4" cy="187.2" r="1.55" fill="#f7fab8" stroke="#363620"/><circle cx="279.0" cy="193.3" r="1.55" fill="#9aead3" stroke="#24423a"/><circle cx="161.5" cy="265.5" r="1.55" fill="#f7fab8" stroke="#363620"/><circle cx="205.8" cy="177.8" r="1.55" fill="#9aead3" stroke="#24423a"/><circle cx="226.5" cy="244.5" r="1.55" fill="#f7fab8" stroke="#363620"/><circle cx="91.0" cy="241.3" r="1.55" fill="#f7fab8" stroke="#363620"/><circle cx="252.2" cy="160.5" r="1.55" fill="#9aead3" stroke="#24423a"/><circle cx="178.4" cy="121.3" r="1.55" fill="#9aead3" stroke="#24423a"/><circle cx="76.7" cy="191.6" r="1.55" fill="#f7fab8" stroke="#363620"/><circle cx="284.1" cy="121.7" r="1.55" fill="#9aead3" stroke="#24423a"/><circle cx="129.6" cy="161.7" r="1.55" fill="#9aead3" stroke="#24423a"/><circle cx="253.5" cy="200.9" r="1.55" fill="#9aead3" stroke="#24423a"/><circle cx="180.1" cy="83.1" r="1.55" fill="#9aead3" stroke="#24423a"/><circle cx="98.7" cy="260.8" r="1.55" fill="#f7fab8" stroke="#363620"/><circle cx="158.1" cy="171.9" r="1.55" fill="#9aead3" stroke="#24423a"/><circle cx="231.0" cy="153.9" r="1.55" fill="#9aead3" stroke="#24423a"/><circle cx="76.0" cy="224.2" r="1.55" fill="#f7fab8" stroke="#363620"/><circle cx="190.3" cy="101.6" r="1.55" fill="#9aead3" stroke="#24423a"/><circle cx="208.1" cy="213.4" r="1.55" fill="#f7fab8" stroke="#363620"/><circle cx="274.0" cy="192.9" r="1.55" fill="#9aead3" stroke="#24423a"/><circle cx="279.8" cy="173.2" r="1.55" fill="#9aead3" stroke="#24423a"/><circle cx="139.3" cy="142.5" r="1.55" fill="#9aead3" stroke="#24423a"/><circle cx="282.1" cy="137.4" r="1.55" fill="#9aead3" stroke="#24423a"/><circle cx="184.1" cy="201.7" r="1.55" fill="#f7fab8" stroke="#363620"/><circle cx="142.8" cy="206.7" r="1.55" fill="#f7fab8" stroke="#363620"/><circle cx="137.3" cy="263.1" r="1.55" fill="#f7fab8" stroke="#363620"/><circle cx="179.3" cy="293.0" r="1.55" fill="#f7fab8" stroke="#363620"/><circle cx="159.5" cy="249.9" r="1.55" fill="#f7fab8" stroke="#363620"/><circle cx="268.1" cy="125.1" r="1.55" fill="#9aead3" stroke="#24423a"/><circle cx="200.6" cy="173.0" r="1.55" fill="#9aead3" stroke="#24423a"/><circle cx="209.0" cy="134.2" r="1.55" fill="#9aead3" stroke="#24423a"/><circle cx="171.3" cy="125.1" r="1.55" fill="#9aead3" stroke="#24423a"/><circle cx="195.7" cy="200.6" r="1.55" fill="#9aead3" stroke="#24423a"/><circle cx="248.1" cy="224.7" r="1.55" fill="#9aead3" stroke="#24423a"/><circle cx="238.7" cy="184.7" r="1.55" fill="#9aead3" stroke="#24423a"/><circle cx="151.5" cy="235.9" r="1.55" fill="#f7fab8" stroke="#363620"/><circle cx="173.4" cy="205.0" r="1.55" fill="#f7fab8" stroke="#363620"/><circle cx="188.7" cy="294.7" r="1.55" fill="#f7fab8" stroke="#363620"/><circle cx="224.0" cy="278.9" r="1.55" fill="#f7fab8" stroke="#363620"/><circle cx="173.2" cy="126.2" r="1.55" fill="#9aead3" stroke="#24423a"/><circle cx="209.5" cy="197.3" r="1.55" fill="#9aead3" stroke="#24423a"/><circle cx="254.1" cy="173.5" r="1.55" fill="#9aead3" stroke="#24423a"/><circle cx="134.3" cy="142.9" r="1.55" fill="#9aead3" stroke="#24423a"/><circle cx="59.8" cy="211.3" r="1.55" fill="#f7fab8" stroke="#363620"/><circle cx="226.5" cy="128.4" r="1.55" fill="#9aead3" stroke="#24423a"/><circle cx="160.5" cy="272.9" r="1.55" fill="#f7fab8" stroke="#363620"/><circle cx="207.4" cy="247.8" r="1.55" fill="#f7fab8" stroke="#363620"/><circle cx="292.0" cy="131.0" r="1.55" fill="#9aead3" stroke="#24423a"/><circle cx="159.7" cy="95.8" r="1.55" fill="#9aead3" stroke="#24423a"/><circle cx="86.7" cy="207.8" r="1.55" fill="#f7fab8" stroke="#363620"/><circle cx="221.8" cy="140.5" r="1.55" fill="#9aead3" stroke="#24423a"/><circle cx="204.5" cy="164.4" r="1.55" fill="#9aead3" stroke="#24423a"/><circle cx="179.1" cy="79.8" r="1.55" fill="#9aead3" stroke="#24423a"/><circle cx="263.8" cy="106.9" r="1.55" fill="#9aead3" stroke="#24423a"/><circle cx="299.8" cy="154.1" r="1.55" fill="#9aead3" stroke="#24423a"/><circle cx="146.0" cy="231.6" r="1.55" fill="#f7fab8" stroke="#363620"/><circle cx="232.3" cy="165.8" r="1.55" fill="#9aead3" stroke="#24423a"/><circle cx="240.4" cy="93.6" r="1.55" fill="#9aead3" stroke="#24423a"/><circle cx="233.5" cy="249.2" r="1.55" fill="#f7fab8" stroke="#363620"/><circle cx="221.0" cy="273.7" r="1.55" fill="#f7fab8" stroke="#363620"/><circle cx="149.0" cy="161.3" r="1.55" fill="#9aead3" stroke="#24423a"/><circle cx="94.5" cy="179.1" r="1.55" fill="#f7fab8" stroke="#363620"/><circle cx="247.4" cy="141.8" r="1.55" fill="#9aead3" stroke="#24423a"/><circle cx="133.7" cy="287.6" r="1.55" fill="#f7fab8" stroke="#363620"/><circle cx="136.1" cy="225.7" r="1.55" fill="#f7fab8" stroke="#363620"/><circle cx="228.5" cy="122.4" r="1.55" fill="#9aead3" stroke="#24423a"/><circle cx="115.6" cy="259.1" r="1.55" fill="#f7fab8" stroke="#363620"/><circle cx="78.8" cy="197.8" r="1.55" fill="#f7fab8" stroke="#363620"/><circle cx="229.3" cy="261.5" r="1.55" fill="#f7fab8" stroke="#363620"/><circle cx="150.9" cy="144.7" r="1.55" fill="#9aead3" stroke="#24423a"/><circle cx="276.7" cy="115.3" r="1.55" fill="#9aead3" stroke="#24423a"/><circle cx="158.6" cy="115.3" r="1.55" fill="#9aead3" stroke="#24423a"/><circle cx="101.2" cy="220.1" r="1.55" fill="#f7fab8" stroke="#363620"/><circle cx="133.2" cy="121.7" r="1.55" fill="#9aead3" stroke="#24423a"/><circle cx="117.2" cy="176.5" r="1.55" fill="#f7fab8" stroke="#363620"/><circle cx="195.6" cy="237.2" r="1.55" fill="#f7fab8" stroke="#363620"/><circle cx="262.6" cy="170.1" r="1.55" fill="#9aead3" stroke="#24423a"/><circle cx="304.2" cy="173.5" r="1.55" fill="#9aead3" stroke="#24423a"/><circle cx="254.0" cy="190.8" r="1.55" fill="#9aead3" stroke="#24423a"/><circle cx="177.7" cy="286.3" r="1.55" fill="#f7fab8" stroke="#363620"/><circle cx="155.4" cy="284.1" r="1.55" fill="#f7fab8" stroke="#363620"/><circle cx="289.4" cy="203.6" r="1.55" fill="#9aead3" stroke="#24423a"/><circle cx="123.4" cy="255.1" r="1.55" fill="#f7fab8" stroke="#363620"/><circle cx="235.2" cy="170.9" r="1.55" fill="#9aead3" stroke="#24423a"/><circle cx="115.3" cy="231.5" r="1.55" fill="#f7fab8" stroke="#363620"/><circle cx="188.4" cy="295.9" r="1.55" fill="#f7fab8" stroke="#363620"/><circle cx="147.6" cy="185.8" r="1.55" fill="#9aead3" stroke="#24423a"/><circle cx="172.6" cy="243.1" r="1.55" fill="#f7fab8" stroke="#363620"/><circle cx="267.2" cy="185.9" r="1.55" fill="#9aead3" stroke="#24423a"/><circle cx="238.8" cy="175.3" r="1.55" fill="#9aead3" stroke="#24423a"/><circle cx="161.4" cy="109.6" r="1.55" fill="#9aead3" stroke="#24423a"/><circle cx="137.9" cy="299.9" r="1.55" fill="#f7fab8" stroke="#363620"/><circle cx="174.6" cy="78.4" r="1.55" fill="#9aead3" stroke="#24423a"/><circle cx="305.7" cy="192.9" r="1.55" fill="#9aead3" stroke="#24423a"/><circle cx="211.4" cy="205.2" r="1.55" fill="#f7fab8" stroke="#363620"/><circle cx="150.7" cy="252.9" r="1.55" fill="#f7fab8" stroke="#363620"/><circle cx="69.4" cy="164.3" r="1.55" fill="#f7fab8" stroke="#363620"/><circle cx="274.9" cy="125.2" r="1.55" fill="#9aead3" stroke="#24423a"/><circle cx="278.0" cy="172.9" r="1.55" fill="#9aead3" stroke="#24423a"/><circle cx="212.1" cy="136.4" r="1.55" fill="#9aead3" stroke="#24423a"/><circle cx="223.0" cy="104.9" r="1.55" fill="#9aead3" stroke="#24423a"/><circle cx="251.0" cy="227.1" r="1.55" fill="#9aead3" stroke="#24423a"/><circle cx="211.3" cy="245.8" r="1.55" fill="#f7fab8" stroke="#363620"/><circle cx="252.6" cy="199.6" r="1.55" fill="#9aead3" stroke="#24423a"/><circle cx="127.7" cy="221.9" r="1.55" fill="#f7fab8" stroke="#363620"/><circle cx="219.3" cy="153.0" r="1.55" fill="#9aead3" stroke="#24423a"/><circle cx="234.3" cy="95.9" r="1.55" fill="#9aead3" stroke="#24423a"/><circle cx="297.6" cy="146.3" r="1.55" fill="#9aead3" stroke="#24423a"/><circle cx="58.1" cy="248.9" r="1.55" fill="#f7fab8" stroke="#363620"/><circle cx="241.2" cy="104.1" r="1.55" fill="#9aead3" stroke="#24423a"/><circle cx="232.4" cy="270.9" r="1.55" fill="#f7fab8" stroke="#363620"/><circle cx="152.9" cy="262.9" r="1.55" fill="#f7fab8" stroke="#363620"/><circle cx="88.5" cy="221.3" r="1.55" fill="#f7fab8" stroke="#363620"/><circle cx="190.5" cy="287.4" r="1.55" fill="#f7fab8" stroke="#363620"/><circle cx="268.8" cy="212.4" r="1.55" fill="#9aead3" stroke="#24423a"/><circle cx="122.8" cy="230.9" r="1.55" fill="#f7fab8" stroke="#363620"/><circle cx="128.0" cy="203.0" r="1.55" fill="#f7fab8" stroke="#363620"/><circle cx="185.5" cy="130.3" r="1.55" fill="#9aead3" stroke="#24423a"/><circle cx="156.2" cy="122.4" r="1.55" fill="#9aead3" stroke="#24423a"/><circle cx="307.4" cy="151.6" r="1.55" fill="#9aead3" stroke="#24423a"/><circle cx="67.1" cy="167.0" r="1.55" fill="#9aead3" stroke="#24423a"/><circle cx="173.9" cy="194.9" r="1.55" fill="#9aead3" stroke="#24423a"/><circle cx="273.9" cy="199.2" r="1.55" fill="#9aead3" stroke="#24423a"/><circle cx="301.3" cy="179.3" r="1.55" fill="#9aead3" stroke="#24423a"/><circle cx="202.3" cy="132.4" r="1.55" fill="#9aead3" stroke="#24423a"/><circle cx="213.2" cy="89.5" r="1.55" fill="#9aead3" stroke="#24423a"/><circle cx="174.5" cy="173.8" r="1.55" fill="#9aead3" stroke="#24423a"/><circle cx="177.0" cy="255.7" r="1.55" fill="#f7fab8" stroke="#363620"/><circle cx="84.0" cy="280.2" r="1.55" fill="#f7fab8" stroke="#363620"/><circle cx="181.6" cy="164.6" r="1.55" fill="#9aead3" stroke="#24423a"/><circle cx="90.4" cy="266.3" r="1.55" fill="#f7fab8" stroke="#363620"/><circle cx="85.2" cy="257.0" r="1.55" fill="#f7fab8" stroke="#363620"/><circle cx="177.4" cy="272.2" r="1.55" fill="#f7fab8" stroke="#363620"/><circle cx="181.5" cy="274.7" r="1.55" fill="#f7fab8" stroke="#363620"/><circle cx="204.8" cy="153.4" r="1.55" fill="#9aead3" stroke="#24423a"/><circle cx="133.2" cy="112.4" r="1.55" fill="#9aead3" stroke="#24423a"/><circle cx="235.5" cy="123.5" r="1.55" fill="#9aead3" stroke="#24423a"/><circle cx="182.6" cy="157.7" r="1.55" fill="#9aead3" stroke="#24423a"/><circle cx="215.7" cy="132.4" r="1.55" fill="#9aead3" stroke="#24423a"/><circle cx="199.3" cy="254.8" r="1.55" fill="#f7fab8" stroke="#363620"/><circle cx="254.3" cy="120.7" r="1.55" fill="#9aead3" stroke="#24423a"/><circle cx="257.7" cy="108.5" r="1.55" fill="#9aead3" stroke="#24423a"/><circle cx="156.4" cy="117.1" r="1.55" fill="#9aead3" stroke="#24423a"/><circle cx="202.2" cy="265.9" r="1.55" fill="#f7fab8" stroke="#363620"/><circle cx="116.4" cy="109.2" r="1.55" fill="#9aead3" stroke="#24423a"/><circle cx="175.4" cy="166.6" r="1.55" fill="#9aead3" stroke="#24423a"/><circle cx="208.8" cy="107.2" r="1.55" fill="#9aead3" stroke="#24423a"/><circle cx="141.3" cy="275.1" r="1.55" fill="#f7fab8" stroke="#363620"/><circle cx="192.0" cy="188.0" r="1.55" fill="#f7fab8" stroke="#363620"/><circle cx="187.0" cy="275.8" r="1.55" fill="#f7fab8" stroke="#363620"/><circle cx="83.5" cy="223.7" r="1.55" fill="#f7fab8" stroke="#363620"/><circle cx="149.4" cy="160.0" r="1.55" fill="#9aead3" stroke="#24423a"/><circle cx="293.2" cy="159.8" r="1.55" fill="#9aead3" stroke="#24423a"/><circle cx="221.5" cy="256.8" r="1.55" fill="#f7fab8" stroke="#363620"/><circle cx="135.2" cy="113.5" r="1.55" fill="#9aead3" stroke="#24423a"/><circle cx="217.5" cy="262.7" r="1.55" fill="#f7fab8" stroke="#363620"/><circle cx="181.3" cy="103.4" r="1.55" fill="#9aead3" stroke="#24423a"/><circle cx="210.5" cy="169.3" r="1.55" fill="#9aead3" stroke="#24423a"/><circle cx="129.0" cy="178.3" r="1.55" fill="#f7fab8" stroke="#363620"/><circle cx="221.2" cy="282.8" r="1.55" fill="#f7fab8" stroke="#363620"/><circle cx="85.6" cy="211.2" r="1.55" fill="#f7fab8" stroke="#363620"/><circle cx="169.1" cy="291.2" r="1.55" fill="#f7fab8" stroke="#363620"/><circle cx="49.6" cy="222.3" r="1.55" fill="#f7fab8" stroke="#363620"/><circle cx="214.3" cy="86.3" r="1.55" fill="#9aead3" stroke="#24423a"/><circle cx="62.5" cy="217.4" r="1.55" fill="#f7fab8" stroke="#363620"/><circle cx="197.3" cy="200.5" r="1.55" fill="#f7fab8" stroke="#363620"/><circle cx="182.3" cy="195.9" r="1.55" fill="#f7fab8" stroke="#363620"/><circle cx="175.3" cy="99.6" r="1.55" fill="#9aead3" stroke="#24423a"/><circle cx="50.3" cy="226.7" r="1.55" fill="#f7fab8" stroke="#363620"/><circle cx="123.7" cy="235.6" r="1.55" fill="#f7fab8" stroke="#363620"/><circle cx="129.4" cy="271.1" r="1.55" fill="#f7fab8" stroke="#363620"/><circle cx="258.6" cy="189.4" r="1.55" fill="#9aead3" stroke="#24423a"/><circle cx="119.7" cy="138.6" r="1.55" fill="#9aead3" stroke="#24423a"/><circle cx="299.1" cy="137.9" r="1.55" fill="#9aead3" stroke="#24423a"/><circle cx="214.9" cy="210.4" r="1.55" fill="#9aead3" stroke="#24423a"/><circle cx="280.7" cy="135.9" r="1.55" fill="#9aead3" stroke="#24423a"/><circle cx="92.5" cy="266.7" r="1.55" fill="#f7fab8" stroke="#363620"/><circle cx="244.6" cy="210.3" r="1.55" fill="#9aead3" stroke="#24423a"/><circle cx="215.6" cy="236.0" r="1.55" fill="#f7fab8" stroke="#363620"/><circle cx="286.4" cy="195.1" r="1.55" fill="#9aead3" stroke="#24423a"/><circle cx="224.4" cy="89.4" r="1.55" fill="#9aead3" stroke="#24423a"/><circle cx="107.4" cy="271.9" r="1.55" fill="#f7fab8" stroke="#363620"/><circle cx="232.7" cy="164.3" r="1.55" fill="#9aead3" stroke="#24423a"/><circle cx="192.0" cy="231.9" r="1.55" fill="#f7fab8" stroke="#363620"/><circle cx="147.4" cy="209.3" r="1.55" fill="#f7fab8" stroke="#363620"/><circle cx="277.6" cy="123.4" r="1.55" fill="#9aead3" stroke="#24423a"/><circle cx="179.9" cy="257.2" r="1.55" fill="#f7fab8" stroke="#363620"/><circle cx="263.8" cy="108.7" r="1.55" fill="#9aead3" stroke="#24423a"/><circle cx="254.1" cy="140.0" r="1.55" fill="#9aead3" stroke="#24423a"/><circle cx="207.1" cy="276.9" r="1.55" fill="#f7fab8" stroke="#363620"/><circle cx="127.2" cy="112.3" r="1.55" fill="#9aead3" stroke="#24423a"/><circle cx="139.8" cy="130.0" r="1.55" fill="#9aead3" stroke="#24423a"/><circle cx="190.9" cy="201.2" r="1.55" fill="#9aead3" stroke="#24423a"/><circle cx="303.3" cy="177.5" r="1.55" fill="#9aead3" stroke="#24423a"/><circle cx="77.9" cy="206.1" r="1.55" fill="#f7fab8" stroke="#363620"/><circle cx="127.9" cy="123.1" r="1.55" fill="#9aead3" stroke="#24423a"/><circle cx="227.9" cy="270.1" r="1.55" fill="#f7fab8" stroke="#363620"/><circle cx="233.3" cy="137.9" r="1.55" fill="#9aead3" stroke="#24423a"/><circle cx="98.1" cy="264.4" r="1.55" fill="#f7fab8" stroke="#363620"/><circle cx="128.2" cy="197.6" r="1.55" fill="#f7fab8" stroke="#363620"/><circle cx="177.4" cy="209.9" r="1.55" fill="#f7fab8" stroke="#363620"/><circle cx="228.5" cy="180.7" r="1.55" fill="#9aead3" stroke="#24423a"/><circle cx="120.8" cy="276.5" r="1.55" fill="#f7fab8" stroke="#363620"/><circle cx="154.8" cy="244.8" r="1.55" fill="#f7fab8" stroke="#363620"/><circle cx="165.5" cy="197.9" r="1.55" fill="#f7fab8" stroke="#363620"/><circle cx="93.5" cy="273.2" r="1.55" fill="#f7fab8" stroke="#363620"/><circle cx="93.1" cy="286.7" r="1.55" fill="#f7fab8" stroke="#363620"/><circle cx="233.6" cy="234.1" r="1.55" fill="#f7fab8" stroke="#363620"/><circle cx="222.9" cy="258.3" r="1.55" fill="#f7fab8" stroke="#363620"/><circle cx="213.2" cy="157.1" r="1.55" fill="#9aead3" stroke="#24423a"/><circle cx="190.2" cy="111.1" r="1.55" fill="#9aead3" stroke="#24423a"/><circle cx="141.1" cy="247.3" r="1.55" fill="#f7fab8" stroke="#363620"/><circle cx="224.9" cy="184.8" r="1.55" fill="#9aead3" stroke="#24423a"/><circle cx="261.0" cy="138.2" r="1.55" fill="#9aead3" stroke="#24423a"/><circle cx="196.6" cy="143.2" r="1.55" fill="#9aead3" stroke="#24423a"/><circle cx="121.2" cy="269.2" r="1.55" fill="#f7fab8" stroke="#363620"/><circle cx="175.6" cy="236.5" r="1.55" fill="#f7fab8" stroke="#363620"/><circle cx="162.1" cy="222.4" r="1.55" fill="#f7fab8" stroke="#363620"/><circle cx="237.8" cy="149.9" r="1.55" fill="#9aead3" stroke="#24423a"/><circle cx="189.7" cy="288.0" r="1.55" fill="#f7fab8" stroke="#363620"/><circle cx="294.8" cy="191.5" r="1.55" fill="#9aead3" stroke="#24423a"/><circle cx="138.8" cy="285.0" r="1.55" fill="#f7fab8" stroke="#363620"/><circle cx="80.9" cy="247.7" r="1.55" fill="#f7fab8" stroke="#363620"/><circle cx="236.4" cy="170.3" r="1.55" fill="#9aead3" stroke="#24423a"/><circle cx="86.7" cy="260.3" r="1.55" fill="#f7fab8" stroke="#363620"/><circle cx="99.7" cy="207.5" r="1.55" fill="#f7fab8" stroke="#363620"/><circle cx="226.3" cy="125.8" r="1.55" fill="#9aead3" stroke="#24423a"/><circle cx="188.8" cy="149.3" r="1.55" fill="#9aead3" stroke="#24423a"/><circle cx="243.4" cy="125.5" r="1.55" fill="#9aead3" stroke="#24423a"/><circle cx="186.5" cy="141.2" r="1.55" fill="#9aead3" stroke="#24423a"/><circle cx="95.0" cy="269.7" r="1.55" fill="#f7fab8" stroke="#363620"/><circle cx="158.4" cy="241.4" r="1.55" fill="#f7fab8" stroke="#363620"/><circle cx="217.9" cy="236.2" r="1.55" fill="#f7fab8" stroke="#363620"/><circle cx="165.0" cy="146.4" r="1.55" fill="#9aead3" stroke="#24423a"/><circle cx="218.0" cy="219.0" r="1.55" fill="#f7fab8" stroke="#363620"/><circle cx="301.7" cy="158.5" r="1.55" fill="#9aead3" stroke="#24423a"/><circle cx="282.7" cy="211.4" r="1.55" fill="#9aead3" stroke="#24423a"/><circle cx="147.2" cy="274.8" r="1.55" fill="#f7fab8" stroke="#363620"/><circle cx="281.1" cy="139.6" r="1.55" fill="#9aead3" stroke="#24423a"/><circle cx="195.1" cy="236.7" r="1.55" fill="#f7fab8" stroke="#363620"/><circle cx="266.8" cy="190.4" r="1.55" fill="#9aead3" stroke="#24423a"/><circle cx="293.4" cy="209.8" r="1.55" fill="#9aead3" stroke="#24423a"/><circle cx="206.7" cy="213.8" r="1.55" fill="#f7fab8" stroke="#363620"/><circle cx="186.4" cy="101.1" r="1.55" fill="#9aead3" stroke="#24423a"/><circle cx="132.8" cy="283.7" r="1.55" fill="#f7fab8" stroke="#363620"/><circle cx="206.7" cy="159.6" r="1.55" fill="#9aead3" stroke="#24423a"/><circle cx="124.1" cy="117.9" r="1.55" fill="#9aead3" stroke="#24423a"/><circle cx="245.9" cy="173.4" r="1.55" fill="#9aead3" stroke="#24423a"/><circle cx="283.1" cy="210.3" r="1.55" fill="#9aead3" stroke="#24423a"/><circle cx="207.4" cy="146.2" r="1.55" fill="#9aead3" stroke="#24423a"/><circle cx="207.3" cy="244.0" r="1.55" fill="#f7fab8" stroke="#363620"/><circle cx="229.6" cy="186.6" r="1.55" fill="#9aead3" stroke="#24423a"/><circle cx="258.8" cy="155.0" r="1.55" fill="#9aead3" stroke="#24423a"/><circle cx="115.9" cy="246.7" r="1.55" fill="#f7fab8" stroke="#363620"/><circle cx="206.8" cy="185.4" r="1.55" fill="#9aead3" stroke="#24423a"/><circle cx="244.1" cy="233.1" r="1.55" fill="#f7fab8" stroke="#363620"/><circle cx="258.0" cy="122.0" r="1.55" fill="#9aead3" stroke="#24423a"/><circle cx="231.1" cy="249.5" r="1.55" fill="#f7fab8" stroke="#363620"/><circle cx="211.1" cy="94.1" r="1.55" fill="#9aead3" stroke="#24423a"/><circle cx="303.5" cy="173.8" r="1.55" fill="#9aead3" stroke="#24423a"/><circle cx="125.8" cy="95.0" r="1.55" fill="#9aead3" stroke="#24423a"/><circle cx="180.8" cy="141.5" r="1.55" fill="#9aead3" stroke="#24423a"/><circle cx="240.0" cy="251.5" r="1.55" fill="#f7fab8" stroke="#363620"/><circle cx="143.5" cy="221.5" r="1.55" fill="#f7fab8" stroke="#363620"/><circle cx="156.8" cy="244.8" r="1.55" fill="#f7fab8" stroke="#363620"/><circle cx="272.0" cy="118.2" r="1.55" fill="#9aead3" stroke="#24423a"/><circle cx="122.8" cy="210.5" r="1.55" fill="#f7fab8" stroke="#363620"/><circle cx="237.1" cy="112.8" r="1.55" fill="#9aead3" stroke="#24423a"/><circle cx="171.4" cy="272.5" r="1.55" fill="#f7fab8" stroke="#363620"/><circle cx="230.1" cy="265.5" r="1.55" fill="#f7fab8" stroke="#363620"/><circle cx="146.7" cy="284.8" r="1.55" fill="#f7fab8" stroke="#363620"/><circle cx="117.9" cy="225.2" r="1.55" fill="#f7fab8" stroke="#363620"/><circle cx="234.8" cy="264.0" r="1.55" fill="#f7fab8" stroke="#363620"/><circle cx="266.8" cy="213.9" r="1.55" fill="#9aead3" stroke="#24423a"/><circle cx="183.2" cy="181.7" r="1.55" fill="#9aead3" stroke="#24423a"/><circle cx="281.2" cy="134.1" r="1.55" fill="#9aead3" stroke="#24423a"/><circle cx="146.4" cy="87.4" r="1.55" fill="#9aead3" stroke="#24423a"/><circle cx="220.3" cy="222.5" r="1.55" fill="#f7fab8" stroke="#363620"/><circle cx="237.3" cy="272.6" r="1.55" fill="#f7fab8" stroke="#363620"/><circle cx="186.0" cy="203.7" r="1.55" fill="#9aead3" stroke="#24423a"/><circle cx="214.0" cy="290.0" r="1.55" fill="#f7fab8" stroke="#363620"/><circle cx="95.0" cy="177.6" r="1.55" fill="#f7fab8" stroke="#363620"/><circle cx="219.5" cy="260.0" r="1.55" fill="#f7fab8" stroke="#363620"/><circle cx="234.9" cy="195.4" r="1.55" fill="#9aead3" stroke="#24423a"/><circle cx="223.2" cy="176.4" r="1.55" fill="#9aead3" stroke="#24423a"/><circle cx="135.8" cy="236.2" r="1.55" fill="#f7fab8" stroke="#363620"/><circle cx="159.3" cy="118.2" r="1.55" fill="#9aead3" stroke="#24423a"/><circle cx="171.1" cy="166.3" r="1.55" fill="#9aead3" stroke="#24423a"/><circle cx="161.8" cy="101.4" r="1.55" fill="#9aead3" stroke="#24423a"/><circle cx="167.4" cy="292.1" r="1.55" fill="#f7fab8" stroke="#363620"/><circle cx="288.8" cy="199.7" r="1.55" fill="#9aead3" stroke="#24423a"/><circle cx="139.3" cy="155.3" r="1.55" fill="#9aead3" stroke="#24423a"/><circle cx="270.3" cy="137.8" r="1.55" fill="#9aead3" stroke="#24423a"/><circle cx="193.5" cy="187.1" r="1.55" fill="#f7fab8" stroke="#363620"/><circle cx="199.1" cy="108.2" r="1.55" fill="#9aead3" stroke="#24423a"/><circle cx="250.7" cy="199.5" r="1.55" fill="#9aead3" stroke="#24423a"/><circle cx="217.4" cy="200.7" r="1.55" fill="#f7fab8" stroke="#363620"/><circle cx="146.9" cy="94.0" r="1.55" fill="#9aead3" stroke="#24423a"/><circle cx="190.7" cy="186.8" r="1.55" fill="#f7fab8" stroke="#363620"/><circle cx="256.4" cy="148.1" r="1.55" fill="#9aead3" stroke="#24423a"/><circle cx="204.3" cy="170.5" r="1.55" fill="#9aead3" stroke="#24423a"/><circle cx="143.5" cy="202.1" r="1.55" fill="#f7fab8" stroke="#363620"/><circle cx="200.7" cy="276.8" r="1.55" fill="#f7fab8" stroke="#363620"/><circle cx="270.7" cy="184.9" r="1.55" fill="#9aead3" stroke="#24423a"/><circle cx="260.6" cy="182.3" r="1.55" fill="#9aead3" stroke="#24423a"/><circle cx="163.5" cy="222.4" r="1.55" fill="#f7fab8" stroke="#363620"/><circle cx="170.9" cy="231.4" r="1.55" fill="#f7fab8" stroke="#363620"/><circle cx="74.8" cy="239.8" r="1.55" fill="#f7fab8" stroke="#363620"/><circle cx="269.8" cy="223.5" r="1.55" fill="#9aead3" stroke="#24423a"/><circle cx="163.6" cy="271.6" r="1.55" fill="#f7fab8" stroke="#363620"/><circle cx="279.7" cy="192.1" r="1.55" fill="#9aead3" stroke="#24423a"/></g>
<defs><clipPath id="ce1"><ellipse cx="208.4" cy="156.5" rx="119.3" ry="80.2" transform="rotate(19.3 208.4 156.5)"/></clipPath></defs>
<ellipse cx="148.35" cy="237.4" rx="110.0" ry="70.1" transform="rotate(7.25 148.35 237.4)" fill="#eef8e0" fill-opacity="0.35" clip-path="url(#ce1)"/>
<ellipse cx="208.4" cy="156.5" rx="119.3" ry="80.2" transform="rotate(19.3 208.4 156.5)" fill="none" stroke="#8ed5c0" stroke-width="0.7" stroke-dasharray="2.2,1.6"/>
<ellipse cx="148.35" cy="237.4" rx="110.0" ry="70.1" transform="rotate(7.25 148.35 237.4)" fill="none" stroke="#e4efa2" stroke-width="0.75" stroke-dasharray="2.2,1.6"/>
<path d="M25.5,58 V320.4 H337.4" fill="none" stroke="#222" stroke-width="1"/>
<line x1="23" x2="25.5" y1="64.7" y2="64.7" stroke="#333" stroke-width="0.6"/>
<text x="22.20" y="67.10" font-size="6.8" fill="#4d4d4d" text-anchor="end" font-weight="normal" stroke="#4d4d4d" stroke-width="0.1" >20</text>
<line x1="23" x2="25.5" y1="128.6" y2="128.6" stroke="#333" stroke-width="0.6"/>
<text x="22.20" y="131.00" font-size="6.8" fill="#4d4d4d" text-anchor="end" font-weight="normal" stroke="#4d4d4d" stroke-width="0.1" >10</text>
<line x1="23" x2="25.5" y1="192.5" y2="192.5" stroke="#333" stroke-width="0.6"/>
<text x="22.20" y="194.90" font-size="6.8" fill="#4d4d4d" text-anchor="end" font-weight="normal" stroke="#4d4d4d" stroke-width="0.1" >0</text>
<line x1="23" x2="25.5" y1="256.4" y2="256.4" stroke="#333" stroke-width="0.6"/>
<text x="22.20" y="258.80" font-size="6.8" fill="#4d4d4d" text-anchor="end" font-weight="normal" stroke="#4d4d4d" stroke-width="0.1" >-10</text>
<line x1="23" x2="25.5" y1="320.3" y2="320.3" stroke="#333" stroke-width="0.6"/>
<text x="22.20" y="322.70" font-size="6.8" fill="#4d4d4d" text-anchor="end" font-weight="normal" stroke="#4d4d4d" stroke-width="0.1" >-20</text>
<line x1="96.4" x2="96.4" y1="320.4" y2="323" stroke="#333" stroke-width="0.6"/>
<text x="96.40" y="329.20" font-size="6.8" fill="#4d4d4d" text-anchor="middle" font-weight="normal" stroke="#4d4d4d" stroke-width="0.1" >-10</text>
<line x1="180.7" x2="180.7" y1="320.4" y2="323" stroke="#333" stroke-width="0.6"/>
<text x="180.70" y="329.20" font-size="6.8" fill="#4d4d4d" text-anchor="middle" font-weight="normal" stroke="#4d4d4d" stroke-width="0.1" >0</text>
<line x1="265.0" x2="265.0" y1="320.4" y2="323" stroke="#333" stroke-width="0.6"/>
<text x="265.00" y="329.20" font-size="6.8" fill="#4d4d4d" text-anchor="middle" font-weight="normal" stroke="#4d4d4d" stroke-width="0.1" >10</text>
<text x="181.50" y="339.20" font-size="8.7" fill="#000" text-anchor="middle" font-weight="normal" stroke="#000" stroke-width="0.1" >Dimension 1</text>
<text transform="translate(8.6,189) rotate(-90)" font-size="8.7" text-anchor="middle">Dimension 2</text>
<text x="139.30" y="40.90" font-size="8.5" fill="#000" text-anchor="start" font-weight="normal" stroke="#000" stroke-width="0.1" >Clusters</text>
<rect x="176.4" y="31.4" width="12.8" height="13.0" fill="#66C2A5" fill-opacity="0.2" stroke="#8fd6c2" stroke-width="0.7" stroke-dasharray="2.8,1.6"/>
<circle cx="182.8" cy="37.9" r="1.75" fill="#7fd3b8" stroke="#3b4a3a" stroke-width="0.55"/>
<text x="193.80" y="40.90" font-size="8.2" fill="#222" text-anchor="start" font-weight="normal" stroke="#222" stroke-width="0.1" >1</text>
<rect x="202.7" y="31.4" width="12.8" height="13.0" fill="#E6F598" fill-opacity="0.2" stroke="#eef7b8" stroke-width="0.7" stroke-dasharray="2.8,1.6"/>
<circle cx="209.1" cy="37.9" r="1.75" fill="#eef3a6" stroke="#4a4a2e" stroke-width="0.55"/>
<text x="220.30" y="40.90" font-size="8.2" fill="#222" text-anchor="start" font-weight="normal" stroke="#222" stroke-width="0.1" >2</text>
<line x1="376.50" x2="376.50" y1="45.75" y2="224.7" stroke="#ebebeb" stroke-width="0.5"/><line x1="417.21" x2="417.21" y1="45.75" y2="224.7" stroke="#ebebeb" stroke-width="0.35"/><line x1="457.93" x2="457.93" y1="45.75" y2="224.7" stroke="#ebebeb" stroke-width="0.5"/><line x1="498.64" x2="498.64" y1="45.75" y2="224.7" stroke="#ebebeb" stroke-width="0.35"/><line x1="539.35" x2="539.35" y1="45.75" y2="224.7" stroke="#ebebeb" stroke-width="0.5"/><line x1="580.06" x2="580.06" y1="45.75" y2="224.7" stroke="#ebebeb" stroke-width="0.35"/><line x1="620.77" x2="620.77" y1="45.75" y2="224.7" stroke="#ebebeb" stroke-width="0.5"/><line x1="661.49" x2="661.49" y1="45.75" y2="224.7" stroke="#ebebeb" stroke-width="0.35"/><line x1="361.4" x2="684.5" y1="216.80" y2="216.80" stroke="#ebebeb" stroke-width="0.5"/><line x1="361.4" x2="684.5" y1="196.38" y2="196.38" stroke="#ebebeb" stroke-width="0.35"/><line x1="361.4" x2="684.5" y1="175.95" y2="175.95" stroke="#ebebeb" stroke-width="0.5"/><line x1="361.4" x2="684.5" y1="155.53" y2="155.53" stroke="#ebebeb" stroke-width="0.35"/><line x1="361.4" x2="684.5" y1="135.10" y2="135.10" stroke="#ebebeb" stroke-width="0.5"/><line x1="361.4" x2="684.5" y1="114.68" y2="114.68" stroke="#ebebeb" stroke-width="0.35"/><line x1="361.4" x2="684.5" y1="94.25" y2="94.25" stroke="#ebebeb" stroke-width="0.5"/><line x1="361.4" x2="684.5" y1="73.82" y2="73.82" stroke="#ebebeb" stroke-width="0.35"/><line x1="361.4" x2="684.5" y1="53.40" y2="53.40" stroke="#ebebeb" stroke-width="0.5"/>
<rect x="361.4" y="45.75" width="323.1" height="178.95" fill="none" stroke="#b3b3b3" stroke-width="0.7"/>
<line x1="359.4" x2="361.4" y1="216.80" y2="216.80" stroke="#333" stroke-width="0.5"/>
<text x="359.00" y="219.00" font-size="6.3" fill="#4d4d4d" text-anchor="end" font-weight="normal" stroke="#4d4d4d" stroke-width="0.1" >0.0</text>
<line x1="359.4" x2="361.4" y1="175.95" y2="175.95" stroke="#333" stroke-width="0.5"/>
<text x="359.00" y="178.15" font-size="6.3" fill="#4d4d4d" text-anchor="end" font-weight="normal" stroke="#4d4d4d" stroke-width="0.1" >0.2</text>
<line x1="359.4" x2="361.4" y1="135.10" y2="135.10" stroke="#333" stroke-width="0.5"/>
<text x="359.00" y="137.30" font-size="6.3" fill="#4d4d4d" text-anchor="end" font-weight="normal" stroke="#4d4d4d" stroke-width="0.1" >0.4</text>
<line x1="359.4" x2="361.4" y1="94.25" y2="94.25" stroke="#333" stroke-width="0.5"/>
<text x="359.00" y="96.45" font-size="6.3" fill="#4d4d4d" text-anchor="end" font-weight="normal" stroke="#4d4d4d" stroke-width="0.1" >0.6</text>
<line x1="359.4" x2="361.4" y1="53.40" y2="53.40" stroke="#333" stroke-width="0.5"/>
<text x="359.00" y="55.60" font-size="6.3" fill="#4d4d4d" text-anchor="end" font-weight="normal" stroke="#4d4d4d" stroke-width="0.1" >0.8</text>
<line x1="376.50" x2="376.50" y1="224.7" y2="226.7" stroke="#333" stroke-width="0.5"/>
<text x="376.50" y="231.90" font-size="6.3" fill="#4d4d4d" text-anchor="middle" font-weight="normal" stroke="#4d4d4d" stroke-width="0.1" >0</text>
<line x1="457.93" x2="457.93" y1="224.7" y2="226.7" stroke="#333" stroke-width="0.5"/>
<text x="457.93" y="231.90" font-size="6.3" fill="#4d4d4d" text-anchor="middle" font-weight="normal" stroke="#4d4d4d" stroke-width="0.1" >25</text>
<line x1="539.35" x2="539.35" y1="224.7" y2="226.7" stroke="#333" stroke-width="0.5"/>
<text x="539.35" y="231.90" font-size="6.3" fill="#4d4d4d" text-anchor="middle" font-weight="normal" stroke="#4d4d4d" stroke-width="0.1" >50</text>
<line x1="620.77" x2="620.77" y1="224.7" y2="226.7" stroke="#333" stroke-width="0.5"/>
<text x="620.77" y="231.90" font-size="6.3" fill="#4d4d4d" text-anchor="middle" font-weight="normal" stroke="#4d4d4d" stroke-width="0.1" >75</text>
<text x="522.95" y="237.60" font-size="5.4" fill="#000" text-anchor="middle" font-weight="normal" stroke="#000" stroke-width="0.1" >Time (days)</text>
<text transform="translate(348.60,135.22) rotate(-90)" font-size="5.4" text-anchor="middle">Mortality Probability</text>
<path d="M376.50,216.80H379.60V212.00H382.50V207.90H385.90V204.30H389.20V201.40H392.60V199.00H396.00V196.60H399.30V193.50H402.70V191.10H406.10V188.70H409.20V186.30H412.60V184.00H415.70V180.70H419.30V177.80H422.40V175.40H425.80V174.20H432.50V172.60H439.70V170.10H449.40V167.70H457.80V164.60H466.20V163.40L466.20,163.40L474.10,163.40L503.90,159.00L539.90,156.30L569.80,154.80L605.70,152.40L644.60,151.00L670.00,151.00" fill="none" stroke="#3cc9c4" stroke-width="1.1"/>
<path d="M668.10,151.00H671.90M670.00,149.40V152.60" stroke="#3cc9c4" stroke-width="1.0"/>
<path d="M376.50,216.80H376.50V199.00H379.60V167.00H382.50V151.40H385.90V139.40H389.20V131.40H392.60V123.00H396.00V117.70H399.30V113.40H402.70V110.50H406.10V105.20H409.20V102.10H412.60V99.00H415.70V96.10H419.30V93.20H422.40V90.50H425.80V87.20H429.20V84.80H432.50V82.80H436.10V81.20H442.10V78.80H449.40V76.80H457.80V74.40L457.80,74.40L474.10,73.10L497.80,70.50L560.00,66.50L632.00,65.20L647.3,65.0V63.3H670" fill="none" stroke="#f2766f" stroke-width="1.1"/>
<path d="M668.10,63.30H671.90M670.00,61.70V64.90" stroke="#f2766f" stroke-width="1.0"/>
<line x1="474.20" x2="474.20" y1="45.75" y2="224.7" stroke="#f06a66" stroke-width="0.95" stroke-dasharray="2.05,2.03" stroke-dashoffset="2.38"/>
<text x="471.50" y="82.30" font-size="4.9" fill="#000" text-anchor="start" font-weight="normal" stroke="#000" stroke-width="0.1" >30-day: 0.7035</text>
<text x="471.50" y="172.50" font-size="4.9" fill="#000" text-anchor="start" font-weight="normal" stroke="#000" stroke-width="0.1" >30-day: 0.2606</text>
<text x="539.70" y="138.00" font-size="6.8" fill="#000" text-anchor="start" font-weight="normal" stroke="#000" stroke-width="0.1" >p &lt; 0.0001</text>
<text x="476.80" y="35.90" font-size="5.4" fill="#000" text-anchor="start" font-weight="normal" stroke="#000" stroke-width="0.1" >Clusters</text>
<line x1="499.90" x2="506.60" y1="33.90" y2="33.90" stroke="#f2766f" stroke-width="0.8"/>
<line x1="503.25" x2="503.25" y1="32.60" y2="35.20" stroke="#f2766f" stroke-width="0.6"/>
<text x="509.70" y="35.90" font-size="5.75" fill="#000" text-anchor="start" font-weight="normal" stroke="#000" stroke-width="0.1" >Cluster 1</text>
<line x1="536.10" x2="542.80" y1="33.90" y2="33.90" stroke="#3cc9c4" stroke-width="0.8"/>
<line x1="539.45" x2="539.45" y1="32.60" y2="35.20" stroke="#3cc9c4" stroke-width="0.6"/>
<text x="546.20" y="35.90" font-size="5.75" fill="#000" text-anchor="start" font-weight="normal" stroke="#000" stroke-width="0.1" >Cluster 2</text>
<text x="361.80" y="248.40" font-size="6.2" fill="#000" text-anchor="start" font-weight="normal" stroke="#000" stroke-width="0.1" >Number at risk</text>
<line x1="376.50" x2="376.50" y1="252.3" y2="289.1" stroke="#ebebeb" stroke-width="0.5"/><line x1="417.21" x2="417.21" y1="252.3" y2="289.1" stroke="#ebebeb" stroke-width="0.35"/><line x1="457.93" x2="457.93" y1="252.3" y2="289.1" stroke="#ebebeb" stroke-width="0.5"/><line x1="498.64" x2="498.64" y1="252.3" y2="289.1" stroke="#ebebeb" stroke-width="0.35"/><line x1="539.35" x2="539.35" y1="252.3" y2="289.1" stroke="#ebebeb" stroke-width="0.5"/><line x1="580.06" x2="580.06" y1="252.3" y2="289.1" stroke="#ebebeb" stroke-width="0.35"/><line x1="620.77" x2="620.77" y1="252.3" y2="289.1" stroke="#ebebeb" stroke-width="0.5"/><line x1="661.49" x2="661.49" y1="252.3" y2="289.1" stroke="#ebebeb" stroke-width="0.35"/><line x1="361.4" x2="684.5" y1="262.60" y2="262.60" stroke="#ebebeb" stroke-width="0.5"/><line x1="361.4" x2="684.5" y1="279.40" y2="279.40" stroke="#ebebeb" stroke-width="0.5"/>
<rect x="361.4" y="252.3" width="323.1" height="36.80000000000001" fill="none" stroke="#b3b3b3" stroke-width="0.7"/>
<line x1="351.4" x2="358.0" y1="262.60" y2="262.60" stroke="#f2766f" stroke-width="1.8"/>
<text x="376.50" y="264.80" font-size="6.2" fill="#000" text-anchor="middle" font-weight="normal" stroke="#000" stroke-width="0.1" >688</text>
<text x="457.93" y="264.80" font-size="6.2" fill="#000" text-anchor="middle" font-weight="normal" stroke="#000" stroke-width="0.1" >212</text>
<text x="539.35" y="264.80" font-size="6.2" fill="#000" text-anchor="middle" font-weight="normal" stroke="#000" stroke-width="0.1" >186</text>
<text x="620.77" y="264.80" font-size="6.2" fill="#000" text-anchor="middle" font-weight="normal" stroke="#000" stroke-width="0.1" >177</text>
<line x1="351.4" x2="358.0" y1="279.40" y2="279.40" stroke="#3cc9c4" stroke-width="1.8"/>
<text x="376.50" y="281.60" font-size="6.2" fill="#000" text-anchor="middle" font-weight="normal" stroke="#000" stroke-width="0.1" >568</text>
<text x="457.93" y="281.60" font-size="6.2" fill="#000" text-anchor="middle" font-weight="normal" stroke="#000" stroke-width="0.1" >430</text>
<text x="539.35" y="281.60" font-size="6.2" fill="#000" text-anchor="middle" font-weight="normal" stroke="#000" stroke-width="0.1" >401</text>
<text x="620.77" y="281.60" font-size="6.2" fill="#000" text-anchor="middle" font-weight="normal" stroke="#000" stroke-width="0.1" >388</text>
<text x="361.80" y="300.10" font-size="6.2" fill="#000" text-anchor="start" font-weight="normal" stroke="#000" stroke-width="0.1" >Cumulative number of events</text>
<line x1="376.50" x2="376.50" y1="304.4" y2="340.6" stroke="#ebebeb" stroke-width="0.5"/><line x1="417.21" x2="417.21" y1="304.4" y2="340.6" stroke="#ebebeb" stroke-width="0.35"/><line x1="457.93" x2="457.93" y1="304.4" y2="340.6" stroke="#ebebeb" stroke-width="0.5"/><line x1="498.64" x2="498.64" y1="304.4" y2="340.6" stroke="#ebebeb" stroke-width="0.35"/><line x1="539.35" x2="539.35" y1="304.4" y2="340.6" stroke="#ebebeb" stroke-width="0.5"/><line x1="580.06" x2="580.06" y1="304.4" y2="340.6" stroke="#ebebeb" stroke-width="0.35"/><line x1="620.77" x2="620.77" y1="304.4" y2="340.6" stroke="#ebebeb" stroke-width="0.5"/><line x1="661.49" x2="661.49" y1="304.4" y2="340.6" stroke="#ebebeb" stroke-width="0.35"/><line x1="361.4" x2="684.5" y1="314.40" y2="314.40" stroke="#ebebeb" stroke-width="0.5"/><line x1="361.4" x2="684.5" y1="331.20" y2="331.20" stroke="#ebebeb" stroke-width="0.5"/>
<rect x="361.4" y="304.4" width="323.1" height="36.200000000000045" fill="none" stroke="#b3b3b3" stroke-width="0.7"/>
<line x1="351.4" x2="358.0" y1="314.40" y2="314.40" stroke="#f2766f" stroke-width="1.8"/>
<text x="376.50" y="316.60" font-size="6.2" fill="#000" text-anchor="middle" font-weight="normal" stroke="#000" stroke-width="0.1" >60</text>
<text x="457.93" y="316.60" font-size="6.2" fill="#000" text-anchor="middle" font-weight="normal" stroke="#000" stroke-width="0.1" >479</text>
<text x="539.35" y="316.60" font-size="6.2" fill="#000" text-anchor="middle" font-weight="normal" stroke="#000" stroke-width="0.1" >502</text>
<text x="620.77" y="316.60" font-size="6.2" fill="#000" text-anchor="middle" font-weight="normal" stroke="#000" stroke-width="0.1" >511</text>
<line x1="351.4" x2="358.0" y1="331.20" y2="331.20" stroke="#3cc9c4" stroke-width="1.8"/>
<text x="376.50" y="333.40" font-size="6.2" fill="#000" text-anchor="middle" font-weight="normal" stroke="#000" stroke-width="0.1" >4</text>
<text x="457.93" y="333.40" font-size="6.2" fill="#000" text-anchor="middle" font-weight="normal" stroke="#000" stroke-width="0.1" >144</text>
<text x="539.35" y="333.40" font-size="6.2" fill="#000" text-anchor="middle" font-weight="normal" stroke="#000" stroke-width="0.1" >167</text>
<text x="620.77" y="333.40" font-size="6.2" fill="#000" text-anchor="middle" font-weight="normal" stroke="#000" stroke-width="0.1" >180</text>
<line x1="31.50" x2="31.50" y1="390.6" y2="548.2" stroke="#ebebeb" stroke-width="0.5"/><line x1="72.25" x2="72.25" y1="390.6" y2="548.2" stroke="#ebebeb" stroke-width="0.35"/><line x1="113.00" x2="113.00" y1="390.6" y2="548.2" stroke="#ebebeb" stroke-width="0.5"/><line x1="153.75" x2="153.75" y1="390.6" y2="548.2" stroke="#ebebeb" stroke-width="0.35"/><line x1="194.50" x2="194.50" y1="390.6" y2="548.2" stroke="#ebebeb" stroke-width="0.5"/><line x1="235.25" x2="235.25" y1="390.6" y2="548.2" stroke="#ebebeb" stroke-width="0.35"/><line x1="276.00" x2="276.00" y1="390.6" y2="548.2" stroke="#ebebeb" stroke-width="0.5"/><line x1="316.75" x2="316.75" y1="390.6" y2="548.2" stroke="#ebebeb" stroke-width="0.35"/><line x1="16.9" x2="339.6" y1="541.50" y2="541.50" stroke="#ebebeb" stroke-width="0.5"/><line x1="16.9" x2="339.6" y1="523.47" y2="523.47" stroke="#ebebeb" stroke-width="0.35"/><line x1="16.9" x2="339.6" y1="505.44" y2="505.44" stroke="#ebebeb" stroke-width="0.5"/><line x1="16.9" x2="339.6" y1="487.41" y2="487.41" stroke="#ebebeb" stroke-width="0.35"/><line x1="16.9" x2="339.6" y1="469.38" y2="469.38" stroke="#ebebeb" stroke-width="0.5"/><line x1="16.9" x2="339.6" y1="451.35" y2="451.35" stroke="#ebebeb" stroke-width="0.35"/><line x1="16.9" x2="339.6" y1="433.32" y2="433.32" stroke="#ebebeb" stroke-width="0.5"/><line x1="16.9" x2="339.6" y1="415.29" y2="415.29" stroke="#ebebeb" stroke-width="0.35"/><line x1="16.9" x2="339.6" y1="397.26" y2="397.26" stroke="#ebebeb" stroke-width="0.5"/>
<rect x="16.9" y="390.6" width="322.70000000000005" height="157.60000000000002" fill="none" stroke="#b3b3b3" stroke-width="0.7"/>
<line x1="14.899999999999999" x2="16.9" y1="541.50" y2="541.50" stroke="#333" stroke-width="0.5"/>
<text x="14.50" y="543.70" font-size="6.3" fill="#4d4d4d" text-anchor="end" font-weight="normal" stroke="#4d4d4d" stroke-width="0.1" >0.0</text>
<line x1="14.899999999999999" x2="16.9" y1="505.44" y2="505.44" stroke="#333" stroke-width="0.5"/>
<text x="14.50" y="507.64" font-size="6.3" fill="#4d4d4d" text-anchor="end" font-weight="normal" stroke="#4d4d4d" stroke-width="0.1" >0.2</text>
<line x1="14.899999999999999" x2="16.9" y1="469.38" y2="469.38" stroke="#333" stroke-width="0.5"/>
<text x="14.50" y="471.58" font-size="6.3" fill="#4d4d4d" text-anchor="end" font-weight="normal" stroke="#4d4d4d" stroke-width="0.1" >0.4</text>
<line x1="14.899999999999999" x2="16.9" y1="433.32" y2="433.32" stroke="#333" stroke-width="0.5"/>
<text x="14.50" y="435.52" font-size="6.3" fill="#4d4d4d" text-anchor="end" font-weight="normal" stroke="#4d4d4d" stroke-width="0.1" >0.6</text>
<line x1="14.899999999999999" x2="16.9" y1="397.26" y2="397.26" stroke="#333" stroke-width="0.5"/>
<text x="14.50" y="399.46" font-size="6.3" fill="#4d4d4d" text-anchor="end" font-weight="normal" stroke="#4d4d4d" stroke-width="0.1" >0.8</text>
<line x1="31.50" x2="31.50" y1="548.2" y2="550.2" stroke="#333" stroke-width="0.5"/>
<text x="31.50" y="555.40" font-size="6.3" fill="#4d4d4d" text-anchor="middle" font-weight="normal" stroke="#4d4d4d" stroke-width="0.1" >0</text>
<line x1="113.00" x2="113.00" y1="548.2" y2="550.2" stroke="#333" stroke-width="0.5"/>
<text x="113.00" y="555.40" font-size="6.3" fill="#4d4d4d" text-anchor="middle" font-weight="normal" stroke="#4d4d4d" stroke-width="0.1" >25</text>
<line x1="194.50" x2="194.50" y1="548.2" y2="550.2" stroke="#333" stroke-width="0.5"/>
<text x="194.50" y="555.40" font-size="6.3" fill="#4d4d4d" text-anchor="middle" font-weight="normal" stroke="#4d4d4d" stroke-width="0.1" >50</text>
<line x1="276.00" x2="276.00" y1="548.2" y2="550.2" stroke="#333" stroke-width="0.5"/>
<text x="276.00" y="555.40" font-size="6.3" fill="#4d4d4d" text-anchor="middle" font-weight="normal" stroke="#4d4d4d" stroke-width="0.1" >75</text>
<text x="178.25" y="561.50" font-size="5.4" fill="#000" text-anchor="middle" font-weight="normal" stroke="#000" stroke-width="0.1" >Time (days)</text>
<text transform="translate(4.10,469.40) rotate(-90)" font-size="5.4" text-anchor="middle">Mortality Probability</text>
<path d="M31.30,541.30H31.30V532.00H35.50V518.40H38.30V511.40H41.40V506.70H44.70V502.10H47.70V497.40H51.20V492.70H54.70V490.40H60.80V485.70H67.30V481.10H73.80V476.40H80.40V471.70H86.90V468.20H93.40V465.20H100.00V462.80H106.50V461.20H113.10V460.50L113.10,460.50L129.40,459.90L220.00,453.70L250.00,451.20L290.00,450.70L300.00,449.40L326.00,449.30" fill="none" stroke="#f2766f" stroke-width="1.1"/>
<path d="M324.10,449.30H327.90M326.00,447.70V450.90" stroke="#f2766f" stroke-width="1.0"/>
<path d="M31.30,541.30H31.30V532.40H34.60V508.60H37.90V493.90H41.40V485.30H44.70V478.70H47.70V471.70H51.20V465.90H54.20V460.00H57.50V456.50H60.80V453.00H64.00V449.50H67.30V447.20H70.60V444.20H73.80V441.80H77.10V439.50H80.40V437.90H86.90V436.70H93.40V434.80H100.00V434.40H106.50V433.20H113.10V430.90H124.70V429.70H129.40V428.50H135.00V427.80L135.00,427.80L171.50,426.80L194.00,422.70L240.00,422.20L279.60,422.40V421.4H326" fill="none" stroke="#3fcb45" stroke-width="1.1"/>
<path d="M324.10,421.40H327.90M326.00,419.80V423.00" stroke="#3fcb45" stroke-width="1.0"/>
<path d="M31.30,541.30H31.30V532.40H34.60V511.40H37.90V485.70H41.40V468.70H47.70V460.00H54.20V455.40H57.50V451.20H60.80V443.20H67.30V439.00H73.80V434.40H86.90V429.70H93.40V425.00H96.70V421.10H109.80V416.80H214.00V412.50H246.60V408.50H326.00V408.50" fill="none" stroke="#619CFF" stroke-width="1.1"/>
<path d="M324.10,408.50H327.90M326.00,406.90V410.10" stroke="#619CFF" stroke-width="1.0"/>
<line x1="129.40" x2="129.40" y1="390.6" y2="548.2" stroke="#f06a66" stroke-width="0.95" stroke-dasharray="2.05,2.03" stroke-dashoffset="2.38"/>
<text x="126.60" y="410.20" font-size="4.9" fill="#000" text-anchor="start" font-weight="normal" stroke="#000" stroke-width="0.1" >30-day: 0.6905</text>
<text x="126.60" y="435.80" font-size="4.9" fill="#000" text-anchor="start" font-weight="normal" stroke="#000" stroke-width="0.1" >30-day: 0.6286</text>
<text x="126.60" y="467.80" font-size="4.9" fill="#000" text-anchor="start" font-weight="normal" stroke="#000" stroke-width="0.1" >30-day: 0.4505</text>
<text x="194.80" y="472.40" font-size="6.8" fill="#000" text-anchor="start" font-weight="normal" stroke="#000" stroke-width="0.1" >p &lt; 0.0001</text>
<text x="126.80" y="380.30" font-size="5.4" fill="#000" text-anchor="start" font-weight="normal" stroke="#000" stroke-width="0.1" >Organ failure</text>
<line x1="161.10" x2="167.80" y1="378.30" y2="378.30" stroke="#f2766f" stroke-width="0.8"/>
<line x1="164.45" x2="164.45" y1="377.00" y2="379.60" stroke="#f2766f" stroke-width="0.6"/>
<text x="170.90" y="380.30" font-size="5.75" fill="#000" text-anchor="start" font-weight="normal" stroke="#000" stroke-width="0.1" >two</text>
<line x1="183.20" x2="189.90" y1="378.30" y2="378.30" stroke="#3fcb45" stroke-width="0.8"/>
<line x1="186.55" x2="186.55" y1="377.00" y2="379.60" stroke="#3fcb45" stroke-width="0.6"/>
<text x="193.40" y="380.30" font-size="5.75" fill="#000" text-anchor="start" font-weight="normal" stroke="#000" stroke-width="0.1" >three</text>
<line x1="209.80" x2="216.50" y1="378.30" y2="378.30" stroke="#619CFF" stroke-width="0.8"/>
<line x1="213.15" x2="213.15" y1="377.00" y2="379.60" stroke="#619CFF" stroke-width="0.6"/>
<text x="220.00" y="380.30" font-size="5.75" fill="#000" text-anchor="start" font-weight="normal" stroke="#000" stroke-width="0.1" >four</text>
<text x="17.30" y="572.30" font-size="6.2" fill="#000" text-anchor="start" font-weight="normal" stroke="#000" stroke-width="0.1" >Number at risk</text>
<line x1="31.50" x2="31.50" y1="576.6" y2="623.1" stroke="#ebebeb" stroke-width="0.5"/><line x1="72.25" x2="72.25" y1="576.6" y2="623.1" stroke="#ebebeb" stroke-width="0.35"/><line x1="113.00" x2="113.00" y1="576.6" y2="623.1" stroke="#ebebeb" stroke-width="0.5"/><line x1="153.75" x2="153.75" y1="576.6" y2="623.1" stroke="#ebebeb" stroke-width="0.35"/><line x1="194.50" x2="194.50" y1="576.6" y2="623.1" stroke="#ebebeb" stroke-width="0.5"/><line x1="235.25" x2="235.25" y1="576.6" y2="623.1" stroke="#ebebeb" stroke-width="0.35"/><line x1="276.00" x2="276.00" y1="576.6" y2="623.1" stroke="#ebebeb" stroke-width="0.5"/><line x1="316.75" x2="316.75" y1="576.6" y2="623.1" stroke="#ebebeb" stroke-width="0.35"/><line x1="16.9" x2="339.6" y1="585.50" y2="585.50" stroke="#ebebeb" stroke-width="0.5"/><line x1="16.9" x2="339.6" y1="600.20" y2="600.20" stroke="#ebebeb" stroke-width="0.5"/><line x1="16.9" x2="339.6" y1="614.70" y2="614.70" stroke="#ebebeb" stroke-width="0.5"/>
<rect x="16.9" y="576.6" width="322.70000000000005" height="46.5" fill="none" stroke="#b3b3b3" stroke-width="0.7"/>
<line x1="6.899999999999999" x2="13.499999999999998" y1="585.50" y2="585.50" stroke="#f2766f" stroke-width="1.8"/>
<text x="31.50" y="587.70" font-size="6.2" fill="#000" text-anchor="middle" font-weight="normal" stroke="#000" stroke-width="0.1" >899</text>
<text x="113.00" y="587.70" font-size="6.2" fill="#000" text-anchor="middle" font-weight="normal" stroke="#000" stroke-width="0.1" >503</text>
<text x="194.50" y="587.70" font-size="6.2" fill="#000" text-anchor="middle" font-weight="normal" stroke="#000" stroke-width="0.1" >465</text>
<text x="276.00" y="587.70" font-size="6.2" fill="#000" text-anchor="middle" font-weight="normal" stroke="#000" stroke-width="0.1" >447</text>
<line x1="6.899999999999999" x2="13.499999999999998" y1="600.20" y2="600.20" stroke="#3fcb45" stroke-width="1.8"/>
<text x="31.50" y="602.40" font-size="6.2" fill="#000" text-anchor="middle" font-weight="normal" stroke="#000" stroke-width="0.1" >315</text>
<text x="113.00" y="602.40" font-size="6.2" fill="#000" text-anchor="middle" font-weight="normal" stroke="#000" stroke-width="0.1" >126</text>
<text x="194.50" y="602.40" font-size="6.2" fill="#000" text-anchor="middle" font-weight="normal" stroke="#000" stroke-width="0.1" >109</text>
<text x="276.00" y="602.40" font-size="6.2" fill="#000" text-anchor="middle" font-weight="normal" stroke="#000" stroke-width="0.1" >107</text>
<line x1="6.899999999999999" x2="13.499999999999998" y1="614.70" y2="614.70" stroke="#619CFF" stroke-width="1.8"/>
<text x="31.50" y="616.90" font-size="6.2" fill="#000" text-anchor="middle" font-weight="normal" stroke="#000" stroke-width="0.1" >42</text>
<text x="113.00" y="616.90" font-size="6.2" fill="#000" text-anchor="middle" font-weight="normal" stroke="#000" stroke-width="0.1" >13</text>
<text x="194.50" y="616.90" font-size="6.2" fill="#000" text-anchor="middle" font-weight="normal" stroke="#000" stroke-width="0.1" >13</text>
<text x="276.00" y="616.90" font-size="6.2" fill="#000" text-anchor="middle" font-weight="normal" stroke="#000" stroke-width="0.1" >11</text>
<text x="17.30" y="634.60" font-size="6.2" fill="#000" text-anchor="start" font-weight="normal" stroke="#000" stroke-width="0.1" >Cumulative number of events</text>
<line x1="31.50" x2="31.50" y1="638.3" y2="685.2" stroke="#ebebeb" stroke-width="0.5"/><line x1="72.25" x2="72.25" y1="638.3" y2="685.2" stroke="#ebebeb" stroke-width="0.35"/><line x1="113.00" x2="113.00" y1="638.3" y2="685.2" stroke="#ebebeb" stroke-width="0.5"/><line x1="153.75" x2="153.75" y1="638.3" y2="685.2" stroke="#ebebeb" stroke-width="0.35"/><line x1="194.50" x2="194.50" y1="638.3" y2="685.2" stroke="#ebebeb" stroke-width="0.5"/><line x1="235.25" x2="235.25" y1="638.3" y2="685.2" stroke="#ebebeb" stroke-width="0.35"/><line x1="276.00" x2="276.00" y1="638.3" y2="685.2" stroke="#ebebeb" stroke-width="0.5"/><line x1="316.75" x2="316.75" y1="638.3" y2="685.2" stroke="#ebebeb" stroke-width="0.35"/><line x1="16.9" x2="339.6" y1="647.50" y2="647.50" stroke="#ebebeb" stroke-width="0.5"/><line x1="16.9" x2="339.6" y1="662.20" y2="662.20" stroke="#ebebeb" stroke-width="0.5"/><line x1="16.9" x2="339.6" y1="676.70" y2="676.70" stroke="#ebebeb" stroke-width="0.5"/>
<rect x="16.9" y="638.3" width="322.70000000000005" height="46.90000000000009" fill="none" stroke="#b3b3b3" stroke-width="0.7"/>
<line x1="6.899999999999999" x2="13.499999999999998" y1="647.50" y2="647.50" stroke="#f2766f" stroke-width="1.8"/>
<text x="31.50" y="649.70" font-size="6.2" fill="#000" text-anchor="middle" font-weight="normal" stroke="#000" stroke-width="0.1" >46</text>
<text x="113.00" y="649.70" font-size="6.2" fill="#000" text-anchor="middle" font-weight="normal" stroke="#000" stroke-width="0.1" >400</text>
<text x="194.50" y="649.70" font-size="6.2" fill="#000" text-anchor="middle" font-weight="normal" stroke="#000" stroke-width="0.1" >434</text>
<text x="276.00" y="649.70" font-size="6.2" fill="#000" text-anchor="middle" font-weight="normal" stroke="#000" stroke-width="0.1" >452</text>
<line x1="6.899999999999999" x2="13.499999999999998" y1="662.20" y2="662.20" stroke="#3fcb45" stroke-width="1.8"/>
<text x="31.50" y="664.40" font-size="6.2" fill="#000" text-anchor="middle" font-weight="normal" stroke="#000" stroke-width="0.1" >16</text>
<text x="113.00" y="664.40" font-size="6.2" fill="#000" text-anchor="middle" font-weight="normal" stroke="#000" stroke-width="0.1" >194</text>
<text x="194.50" y="664.40" font-size="6.2" fill="#000" text-anchor="middle" font-weight="normal" stroke="#000" stroke-width="0.1" >206</text>
<text x="276.00" y="664.40" font-size="6.2" fill="#000" text-anchor="middle" font-weight="normal" stroke="#000" stroke-width="0.1" >208</text>
<line x1="6.899999999999999" x2="13.499999999999998" y1="676.70" y2="676.70" stroke="#619CFF" stroke-width="1.8"/>
<text x="31.50" y="678.90" font-size="6.2" fill="#000" text-anchor="middle" font-weight="normal" stroke="#000" stroke-width="0.1" >2</text>
<text x="113.00" y="678.90" font-size="6.2" fill="#000" text-anchor="middle" font-weight="normal" stroke="#000" stroke-width="0.1" >29</text>
<text x="194.50" y="678.90" font-size="6.2" fill="#000" text-anchor="middle" font-weight="normal" stroke="#000" stroke-width="0.1" >29</text>
<text x="276.00" y="678.90" font-size="6.2" fill="#000" text-anchor="middle" font-weight="normal" stroke="#000" stroke-width="0.1" >31</text>
<line x1="373.3" x2="683.7" y1="592.30" y2="592.30" stroke="#ebebeb" stroke-width="0.55"/><line x1="373.3" x2="683.7" y1="565.95" y2="565.95" stroke="#ebebeb" stroke-width="0.4"/><line x1="373.3" x2="683.7" y1="539.60" y2="539.60" stroke="#ebebeb" stroke-width="0.55"/><line x1="373.3" x2="683.7" y1="513.25" y2="513.25" stroke="#ebebeb" stroke-width="0.4"/><line x1="373.3" x2="683.7" y1="486.90" y2="486.90" stroke="#ebebeb" stroke-width="0.55"/><line x1="373.3" x2="683.7" y1="460.55" y2="460.55" stroke="#ebebeb" stroke-width="0.4"/><line x1="373.3" x2="683.7" y1="434.20" y2="434.20" stroke="#ebebeb" stroke-width="0.55"/><line x1="373.3" x2="683.7" y1="407.85" y2="407.85" stroke="#ebebeb" stroke-width="0.4"/><line x1="373.3" x2="683.7" y1="381.50" y2="381.50" stroke="#ebebeb" stroke-width="0.55"/><line x1="391.50" x2="391.50" y1="371.0" y2="602.8" stroke="#ebebeb" stroke-width="0.55"/><line x1="421.85" x2="421.85" y1="371.0" y2="602.8" stroke="#ebebeb" stroke-width="0.55"/><line x1="452.20" x2="452.20" y1="371.0" y2="602.8" stroke="#ebebeb" stroke-width="0.55"/><line x1="482.55" x2="482.55" y1="371.0" y2="602.8" stroke="#ebebeb" stroke-width="0.55"/><line x1="512.90" x2="512.90" y1="371.0" y2="602.8" stroke="#ebebeb" stroke-width="0.55"/><line x1="543.25" x2="543.25" y1="371.0" y2="602.8" stroke="#ebebeb" stroke-width="0.55"/><line x1="573.60" x2="573.60" y1="371.0" y2="602.8" stroke="#ebebeb" stroke-width="0.55"/><line x1="603.95" x2="603.95" y1="371.0" y2="602.8" stroke="#ebebeb" stroke-width="0.55"/><line x1="634.30" x2="634.30" y1="371.0" y2="602.8" stroke="#ebebeb" stroke-width="0.55"/><line x1="664.65" x2="664.65" y1="371.0" y2="602.8" stroke="#ebebeb" stroke-width="0.55"/>
<rect x="377.85" y="524.00" width="27.3" height="68.30" fill="#5088B8"/>
<rect x="408.20" y="515.78" width="27.3" height="76.52" fill="#5088B8"/>
<rect x="438.55" y="465.19" width="27.3" height="127.11" fill="#5088B8"/>
<rect x="468.90" y="459.71" width="27.3" height="132.59" fill="#5088B8"/>
<rect x="499.25" y="433.57" width="27.3" height="158.73" fill="#5088B8"/>
<rect x="529.60" y="393.09" width="27.3" height="199.21" fill="#5088B8"/>
<rect x="559.95" y="381.50" width="27.3" height="210.80" fill="#5088B8"/>
<rect x="590.30" y="381.50" width="27.3" height="210.80" fill="#5088B8"/>
<rect x="620.65" y="381.50" width="27.3" height="210.80" fill="#5088B8"/>
<rect x="651.00" y="381.50" width="27.3" height="210.80" fill="#5088B8"/>
<text x="369.40" y="594.50" font-size="6.3" fill="#4d4d4d" text-anchor="end" font-weight="normal" stroke="#4d4d4d" stroke-width="0.1" >0.00</text>
<text x="369.40" y="541.80" font-size="6.3" fill="#4d4d4d" text-anchor="end" font-weight="normal" stroke="#4d4d4d" stroke-width="0.1" >0.25</text>
<text x="369.40" y="489.10" font-size="6.3" fill="#4d4d4d" text-anchor="end" font-weight="normal" stroke="#4d4d4d" stroke-width="0.1" >0.50</text>
<text x="369.40" y="436.40" font-size="6.3" fill="#4d4d4d" text-anchor="end" font-weight="normal" stroke="#4d4d4d" stroke-width="0.1" >0.75</text>
<text x="369.40" y="383.70" font-size="6.3" fill="#4d4d4d" text-anchor="end" font-weight="normal" stroke="#4d4d4d" stroke-width="0.1" >1.00</text>
<text transform="translate(390.60,607.30) rotate(-45)" font-size="9.6" fill="#4d4d4d" text-anchor="end" dominant-baseline="hanging">Minute volume</text>
<text transform="translate(420.95,607.30) rotate(-45)" font-size="9.6" fill="#4d4d4d" text-anchor="end" dominant-baseline="hanging">Lactate</text>
<text transform="translate(451.30,607.30) rotate(-45)" font-size="9.6" fill="#4d4d4d" text-anchor="end" dominant-baseline="hanging">Total respiratory rate</text>
<text transform="translate(481.65,607.30) rotate(-45)" font-size="9.6" fill="#4d4d4d" text-anchor="end" dominant-baseline="hanging">Anion gap</text>
<text transform="translate(512.00,607.30) rotate(-45)" font-size="9.6" fill="#4d4d4d" text-anchor="end" dominant-baseline="hanging">Base excess</text>
<text transform="translate(542.35,607.30) rotate(-45)" font-size="9.6" fill="#4d4d4d" text-anchor="end" dominant-baseline="hanging">pH</text>
<text transform="translate(572.70,607.30) rotate(-45)" font-size="9.6" fill="#4d4d4d" text-anchor="end" dominant-baseline="hanging">Total CO2</text>
<text transform="translate(603.05,607.30) rotate(-45)" font-size="9.6" fill="#4d4d4d" text-anchor="end" dominant-baseline="hanging">Creatinine</text>
<text transform="translate(633.40,607.30) rotate(-45)" font-size="9.6" fill="#4d4d4d" text-anchor="end" dominant-baseline="hanging">Norepinephrine</text>
<text transform="translate(663.75,607.30) rotate(-45)" font-size="9.6" fill="#4d4d4d" text-anchor="end" dominant-baseline="hanging">Bicarbonate</text>
<text x="528.50" y="683.20" font-size="8.7" fill="#000" text-anchor="middle" font-weight="normal" stroke="#000" stroke-width="0.1" >Factors</text>
<text transform="translate(353.2,487) rotate(-90)" font-size="8.7" text-anchor="middle">Importance</text>
</svg></body></html>
